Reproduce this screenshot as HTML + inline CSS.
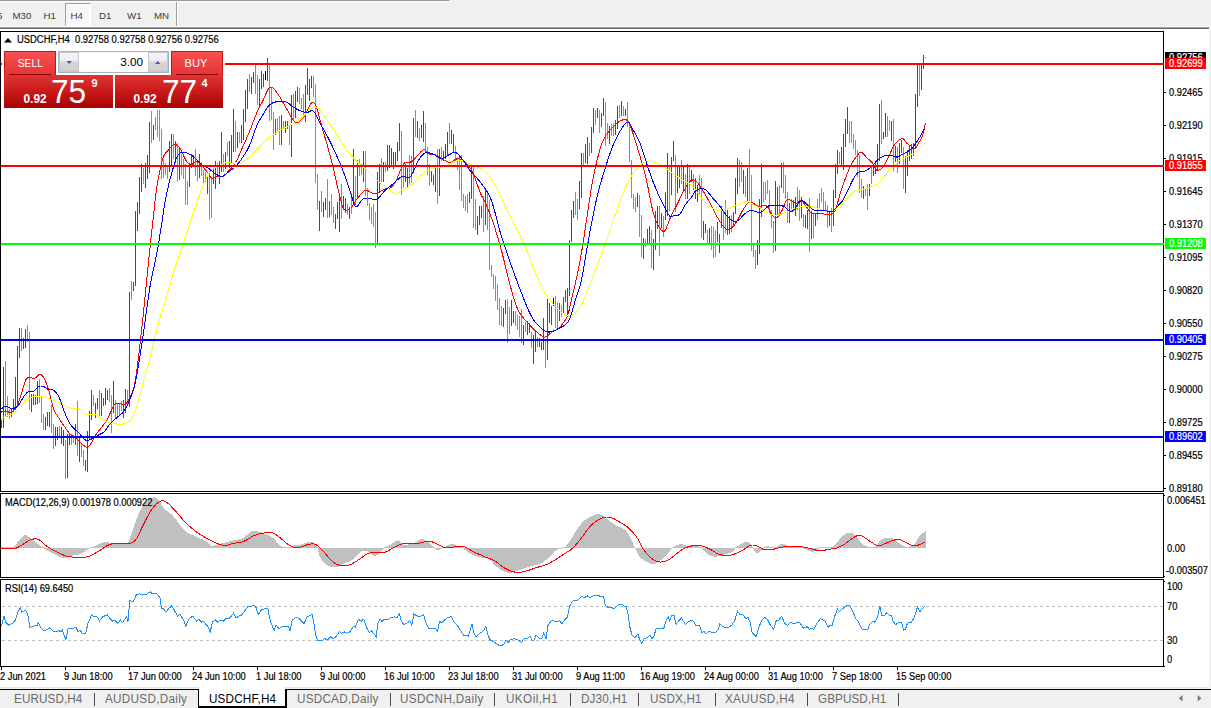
<!DOCTYPE html>
<html><head><meta charset="utf-8"><title>USDCHF,H4</title>
<style>
*{margin:0;padding:0;box-sizing:border-box}
html,body{width:1211px;height:708px;overflow:hidden;background:#f0f0f0;font-family:"Liberation Sans",sans-serif}
#tb{position:absolute;left:0;top:0;width:1211px;height:29px;background:#f0f0f0}
#tb .l0{position:absolute;left:0;top:0;width:450px;height:2px;background:#fff;border-top:1px solid #999;border-right:1px solid #fff}
#tb .l1{position:absolute;left:0;top:26px;width:1209px;height:1px;background:#f8f8f8}
#tb .l2{position:absolute;left:0;top:27px;width:1209px;height:1px;background:#a0a0a0}
#tb .l3{position:absolute;left:0;top:28px;width:1209px;height:1px;background:#696969}
.tf{position:absolute;top:10px;font-size:9.7px;color:#3c3c3c;line-height:12px;white-space:nowrap}
#h4{position:absolute;left:65px;top:3px;width:26px;height:23px;background-color:#f8f8f8;background-image:conic-gradient(#fff 25%,#f0f0f0 0 50%,#fff 0 75%,#f0f0f0 0);background-size:2px 2px;border:1px solid;border-color:#a0a0a0 #fff #fff #a0a0a0}
#sep{position:absolute;left:176px;top:2px;width:2px;height:25px;border-left:1px solid #a0a0a0;border-right:1px solid #fff}
#win{position:absolute;left:0;top:29px;width:1209px;height:658px;background:#fff}
#chart{position:absolute;left:0;top:0}
.ax,.ax2,.pb,.tm,.ttl{position:absolute;font-size:10px;line-height:11px;color:#000;white-space:nowrap;transform-origin:0 50%;transform:scaleX(0.93);-webkit-text-stroke:0.2px currentColor}
.ax{left:1169px}
.ax2{left:1167px}
.pb{left:1165px;width:44.09px;height:11px;color:#fff;padding-left:4.4px;line-height:11px}
.tm{top:670.5px;margin-left:-1px}
#tabs{position:absolute;left:0;top:687px;width:1211px;height:21px;background:#f0f0f0}
#tabs .ln0{position:absolute;left:0;top:0;width:1209px;height:1px;background:#e3e3e3}
#tabs .ln{position:absolute;left:0;top:2px;width:1211px;height:1px;background:#000}
.tab{position:absolute;top:6px;font-size:12.3px;line-height:13px;color:#6a6a6a;white-space:nowrap;transform-origin:0 50%;transform:scaleX(0.951)}
.tsep{position:absolute;top:6px;width:1px;height:13px;background:#4a4a4a}
#act{position:absolute;left:198px;top:2px;width:89px;height:19px;background:#fff;border-left:1px solid #000;border-right:2px solid #000;border-bottom:2px solid #000}
#act2{position:absolute;left:199px;top:0;width:86px;height:3px;background:#fff}
/* trade panel */
#tp{position:absolute;left:4px;top:51px;width:219px;height:57px;background:#fff;box-shadow:-2px 0 0 #fff,2px 0 0 #fff}
.btn{position:absolute;top:0;height:25px;background:linear-gradient(#f95050,#e43434);color:#fff;font-size:11.7px;line-height:21px;text-align:center;border:1px solid #c81414;border-bottom:none}
.btn span{display:inline-block}
.btn i{position:absolute;left:4px;right:4px;bottom:1px;height:1px;background:#8e0000}
.pr{position:absolute;top:24px;height:33px;background:linear-gradient(#e03434 0%,#c81a1a 50%,#a80202 100%);color:#fff}
.pr .s{position:absolute;font-weight:bold;font-size:11.9px;line-height:12px;top:18px}
.pr .b{position:absolute;font-size:34px;line-height:34px;top:-1px;transform-origin:0 0;transform:scaleX(0.93)}
.pr .u{position:absolute;font-weight:bold;font-size:11px;line-height:12px;top:1.5px}
#vol{position:absolute;left:54px;top:0;width:111px;height:22px;background:#fff;border:1px solid #a9b0b8}
.sp{position:absolute;top:0;width:20px;height:20px;background:linear-gradient(#f4f4f4 0%,#ececec 45%,#d6d6d6 50%,#cfcfcf 100%);border:1px solid #c3c7cc}
</style></head><body>
<div id="tb"><div class="l0"></div>
<div class="tf" style="left:-3px">5</div>
<div class="tf" style="left:12.5px">M30</div>
<div class="tf" style="left:43.5px">H1</div>
<div id="h4"></div>
<div class="tf" style="left:70.5px">H4</div>
<div class="tf" style="left:99px">D1</div>
<div class="tf" style="left:127px">W1</div>
<div class="tf" style="left:154px">MN</div>
<div id="sep"></div>
<div class="l1"></div><div class="l2"></div><div class="l3"></div>
</div>
<div id="win"></div>
<svg id="chart" width="1211" height="708" viewBox="0 0 1211 708" shape-rendering="crispEdges">
<path d="M1.5 418V428M3.5 367V428M11.5 409V417M13.5 399V412M15.5 377V410M17.5 346V407M19.5 328V358M23.5 338V349M25.5 329V348M31.5 394V412M33.5 394V405M35.5 395V405M37.5 381V404M45.5 417V430M47.5 412V426M49.5 412V427M55.5 427V446M57.5 427V440M61.5 427V444M63.5 430V446M67.5 434V478M69.5 433V445M75.5 424V445M79.5 436V462M85.5 460V471M87.5 431V472M89.5 411V440M91.5 390V420M95.5 403V418M97.5 398V409M101.5 393V416M103.5 398V406M105.5 388V405M107.5 390V400M113.5 381V413M123.5 400V418M125.5 389V413M129.5 292V407M133.5 282V291M135.5 211V286M137.5 202V231M139.5 177V214M141.5 164V192M145.5 163V188M147.5 155V179M149.5 122V173M153.5 125V140M169.5 141V172M171.5 134V166M175.5 141V163M179.5 149V180M189.5 163V187M191.5 154V168M193.5 155V166M199.5 154V178M207.5 175V194M213.5 168V184M215.5 161V189M219.5 161V184M221.5 132V172M225.5 152V169M229.5 141V168M231.5 135V163M233.5 109V152M237.5 132V148M241.5 125V143M243.5 109V140M245.5 90V122M247.5 79V109M251.5 77V94M253.5 72V83M259.5 79V108M261.5 71V89M263.5 74V87M267.5 58V81M275.5 119V135M281.5 115V145M285.5 121V133M287.5 121V129M291.5 95V157M295.5 91V118M297.5 87V102M305.5 85V122M307.5 68V95M309.5 79V101M311.5 76V88M319.5 201V231M323.5 202V217M325.5 198V210M329.5 201V217M335.5 214V229M337.5 202V219M339.5 193V232M343.5 196V210M345.5 198V213M349.5 207V219M353.5 149V203M357.5 160V198M363.5 151V182M377.5 172V244M379.5 164V193M383.5 162V182M387.5 145V171M389.5 145V168M391.5 148V166M393.5 152V169M395.5 152V165M397.5 142V161M399.5 123V151M405.5 164V182M407.5 168V188M413.5 118V173M417.5 121V138M421.5 125V138M423.5 111V142M431.5 171V182M433.5 175V185M435.5 166V192M439.5 149V196M443.5 151V161M445.5 144V159M447.5 132V156M451.5 130V144M453.5 134V152M469.5 192V203M471.5 167V199M477.5 216V235M479.5 206V225M481.5 206V218M485.5 188V225M503.5 308V327M505.5 300V314M511.5 300V326M513.5 311V323M523.5 325V345M527.5 321V335M529.5 323V333M533.5 335V364M535.5 332V352M539.5 338V347M541.5 342V350M543.5 318V350M547.5 299V360M549.5 303V323M551.5 306V325M559.5 303V321M563.5 297V314M565.5 290V302M567.5 288V316M569.5 240V296M571.5 210V242M573.5 201V218M579.5 181V209M581.5 153V198M585.5 144V163M587.5 137V164M591.5 127V153M593.5 108V133M597.5 108V118M601.5 113V127M603.5 98V116M609.5 126V144M615.5 120V135M617.5 106V129M621.5 101V116M625.5 109V116M637.5 193V207M643.5 238V259M647.5 229V245M649.5 226V243M653.5 239V270M655.5 211V250M657.5 206V229M661.5 213V228M665.5 192V220M667.5 153V216M671.5 157V195M673.5 141V161M677.5 166V193M679.5 165V188M683.5 165V190M687.5 164V199M691.5 170V182M695.5 178V199M697.5 185V202M703.5 221V240M705.5 224V233M709.5 228V244M717.5 222V242M719.5 234V253M721.5 206V228M727.5 209V235M729.5 216V234M733.5 212V226M735.5 178V214M737.5 158V194M743.5 170V194M747.5 168V202M757.5 240V265M759.5 199V254M761.5 164V217M775.5 181V251M777.5 187V216M781.5 163V188M789.5 203V223M793.5 200V211M795.5 197V216M801.5 197V218M805.5 215V228M807.5 210V229M811.5 211V239M815.5 213V226M829.5 211V226M833.5 190V226M835.5 164V198M837.5 150V174M841.5 147V165M843.5 134V170M845.5 119V147M847.5 107V134M863.5 186V199M869.5 184V196M873.5 164V176M875.5 161V174M877.5 144V170M879.5 104V161M883.5 132V139M885.5 113V137M891.5 121V141M895.5 146V162M899.5 143V164M901.5 140V153M905.5 156V193M907.5 150V176M909.5 146V161M911.5 144V159M913.5 143V156M915.5 94V149M917.5 64V107M921.5 63V90M923.5 55V69" stroke="#ff0000" stroke-width="1" fill="none"/>
<path d="M5.5 361V417M7.5 396V417M9.5 409V419M21.5 328V351M27.5 325V342M29.5 332V410M39.5 379V403M41.5 396V423M43.5 414V430M51.5 405V433M53.5 424V449M59.5 426V437M65.5 440V479M71.5 434V445M73.5 435V443M77.5 401V456M81.5 443V457M83.5 450V466M93.5 395V406M99.5 390V416M109.5 388V402M111.5 395V433M115.5 400V418M117.5 403V417M119.5 404V415M121.5 401V411M127.5 390V406M131.5 281V300M143.5 168V184M151.5 111V143M155.5 117V130M157.5 110V137M159.5 110V141M161.5 129V179M163.5 159V178M165.5 163V175M167.5 166V179M173.5 134V159M177.5 143V182M181.5 154V175M183.5 159V179M185.5 164V205M187.5 181V205M195.5 149V176M197.5 161V181M201.5 162V176M203.5 170V185M205.5 172V182M209.5 171V220M211.5 177V218M217.5 163V177M223.5 154V172M227.5 142V156M235.5 121V152M239.5 132V143M249.5 74V92M255.5 63V94M257.5 75V105M269.5 64V121M271.5 88V120M273.5 112V150M277.5 118V133M279.5 116V145M283.5 121V129M289.5 125V145M293.5 94V121M299.5 88V104M301.5 98V109M303.5 94V118M313.5 76V97M315.5 84V183M317.5 174V210M321.5 191V212M327.5 179V218M331.5 194V215M333.5 207V223M341.5 184V219M347.5 204V215M351.5 193V214M355.5 176V205M359.5 159V176M361.5 164V175M365.5 151V196M367.5 188V206M369.5 203V220M371.5 207V224M373.5 204V227M375.5 212V248M381.5 158V182M385.5 162V172M401.5 131V195M403.5 164V188M409.5 155V185M411.5 156V183M415.5 110V137M419.5 128V141M425.5 123V152M427.5 147V175M429.5 164V186M437.5 149V204M441.5 147V161M449.5 123V144M455.5 146V161M457.5 158V170M459.5 155V190M461.5 155V201M463.5 194V208M465.5 196V211M467.5 194V213M473.5 166V228M475.5 199V230M483.5 196V232M487.5 191V230M489.5 200V270M491.5 265V277M493.5 274V289M495.5 276V301M497.5 284V310M499.5 298V325M501.5 306V326M507.5 299V343M509.5 307V334M515.5 311V326M517.5 315V330M519.5 316V337M521.5 309V343M525.5 322V332M531.5 332V348M537.5 337V347M545.5 340V368M555.5 296V328M557.5 302V328M561.5 305V317M575.5 192V215M577.5 199V220M583.5 153V167M589.5 143V156M595.5 110V125M599.5 110V133M605.5 102V146M607.5 123V139M611.5 124V136M613.5 123V136M619.5 105V118M623.5 106V116M627.5 102V127M629.5 122V162M631.5 160V198M633.5 194V209M635.5 197V212M639.5 195V237M641.5 215V257M645.5 239V247M651.5 230V268M659.5 206V256M663.5 216V237M669.5 166V211M675.5 155V212M681.5 160V184M685.5 174V199M689.5 165V194M693.5 174V190M699.5 175V194M701.5 178V238M707.5 230V245M711.5 226V250M713.5 227V258M715.5 230V257M723.5 212V240M725.5 200V233M731.5 215V232M739.5 160V187M741.5 162V182M745.5 176V197M749.5 149V203M751.5 175V251M753.5 244V257M755.5 250V269M763.5 182V202M765.5 182V200M767.5 180V194M769.5 190V214M771.5 210V228M773.5 221V253M779.5 185V216M783.5 162V193M785.5 175V199M787.5 192V223M791.5 199V212M797.5 187V210M799.5 190V221M803.5 214V227M809.5 198V252M813.5 214V238M817.5 199V220M819.5 193V211M821.5 188V202M823.5 192V210M825.5 201V211M827.5 205V228M831.5 208V232M839.5 152V164M849.5 121V143M851.5 121V143M853.5 134V149M855.5 140V155M857.5 150V177M859.5 155V193M861.5 179V198M865.5 188V196M867.5 184V210M871.5 167V184M881.5 100V144M887.5 116V137M889.5 120V131M893.5 119V171M897.5 147V173M903.5 147V189M919.5 64V96M925.5 57V58" stroke="#32cd32" stroke-width="1" fill="none"/>
<path d="M265.5 71V80M553.5 298V306" stroke="#000000" stroke-width="1" fill="none"/>
<polyline points="0.5,412.3 1.5,412.0 2.5,411.7 3.5,411.3 4.5,411.1 5.5,411.0 6.5,411.2 7.5,411.6 8.5,412.0 9.5,412.3 10.5,412.3 11.5,412.0 12.5,411.5 13.5,410.8 14.5,409.8 15.5,408.5 16.5,406.8 17.5,404.7 18.5,402.3 19.5,399.7 20.5,397.0 21.5,393.8 22.5,390.2 23.5,386.5 24.5,383.2 25.5,380.5 26.5,378.8 27.5,377.9 28.5,377.4 29.5,377.2 30.5,377.2 31.5,377.6 32.5,378.1 33.5,378.5 34.5,378.5 35.5,377.9 36.5,377.0 37.5,375.9 38.5,375.0 39.5,374.5 40.5,374.5 41.5,374.9 42.5,375.8 43.5,377.2 44.5,379.0 45.5,381.2 46.5,383.7 47.5,386.5 48.5,389.5 49.5,393.0 50.5,397.1 51.5,401.3 52.5,405.2 53.5,408.5 54.5,411.0 55.5,412.9 56.5,414.5 57.5,416.0 58.5,417.5 59.5,419.1 60.5,420.7 61.5,422.2 62.5,423.6 63.5,425.1 64.5,426.5 65.5,427.9 66.5,429.4 67.5,430.8 68.5,432.2 69.5,433.4 70.5,434.5 71.5,435.3 72.5,435.9 73.5,436.3 74.5,436.8 75.5,437.5 76.5,438.4 77.5,439.4 78.5,440.4 79.5,441.5 80.5,442.5 81.5,443.5 82.5,444.4 83.5,445.3 84.5,446.1 85.5,446.9 86.5,447.5 87.5,447.5 88.5,446.8 89.5,445.6 90.5,444.3 91.5,442.7 92.5,440.9 93.5,439.0 94.5,437.1 95.5,435.3 96.5,433.8 97.5,432.4 98.5,431.1 99.5,430.0 100.5,428.7 101.5,427.5 102.5,426.2 103.5,425.0 104.5,423.7 105.5,422.3 106.5,420.6 107.5,418.8 108.5,416.7 109.5,414.6 110.5,412.5 111.5,410.5 112.5,408.2 113.5,406.0 114.5,404.5 115.5,403.8 116.5,403.5 117.5,403.4 118.5,403.5 119.5,403.5 120.5,403.7 121.5,404.1 122.5,404.5 123.5,404.7 124.5,404.5 125.5,403.9 126.5,403.1 127.5,402.0 128.5,400.5 129.5,398.5 130.5,396.3 131.5,394.2 132.5,391.7 133.5,388.7 134.5,384.7 135.5,379.5 136.5,373.0 137.5,365.7 138.5,357.5 139.5,348.9 140.5,339.8 141.5,330.7 142.5,321.5 143.5,312.2 144.5,302.5 145.5,292.5 146.5,282.4 147.5,272.3 148.5,262.3 149.5,252.5 150.5,243.0 151.5,233.7 152.5,224.5 153.5,215.5 154.5,206.1 155.5,197.0 156.5,189.5 157.5,183.4 158.5,177.7 159.5,172.4 160.5,167.5 161.5,163.2 162.5,159.5 163.5,156.6 164.5,154.6 165.5,153.2 166.5,152.1 167.5,151.1 168.5,149.9 169.5,148.6 170.5,147.4 171.5,146.3 172.5,145.4 173.5,144.8 174.5,144.5 175.5,144.6 176.5,145.0 177.5,145.7 178.5,146.6 179.5,147.8 180.5,149.1 181.5,150.8 182.5,152.9 183.5,155.3 184.5,157.6 185.5,159.6 186.5,161.3 187.5,162.7 188.5,163.8 189.5,164.6 190.5,164.9 191.5,164.7 192.5,164.0 193.5,163.1 194.5,162.2 195.5,161.6 196.5,161.5 197.5,161.9 198.5,162.6 199.5,163.6 200.5,164.6 201.5,165.6 202.5,166.6 203.5,167.7 204.5,168.8 205.5,170.0 206.5,171.3 207.5,172.5 208.5,173.9 209.5,175.6 210.5,177.1 211.5,178.2 212.5,178.6 213.5,178.4 214.5,177.9 215.5,177.2 216.5,176.6 217.5,176.2 218.5,176.1 219.5,176.2 220.5,176.4 221.5,176.5 222.5,176.5 223.5,176.1 224.5,175.4 225.5,174.5 226.5,173.4 227.5,172.2 228.5,171.1 229.5,169.9 230.5,168.9 231.5,167.8 232.5,166.7 233.5,165.5 234.5,164.1 235.5,162.5 236.5,160.7 237.5,158.7 238.5,156.6 239.5,154.3 240.5,152.0 241.5,149.7 242.5,147.5 243.5,145.3 244.5,143.1 245.5,140.8 246.5,138.5 247.5,136.2 248.5,133.9 249.5,131.5 250.5,129.0 251.5,126.4 252.5,123.7 253.5,121.1 254.5,118.4 255.5,115.9 256.5,113.5 257.5,111.3 258.5,109.2 259.5,107.2 260.5,105.3 261.5,103.4 262.5,101.5 263.5,99.4 264.5,97.1 265.5,94.8 266.5,92.5 267.5,90.5 268.5,88.8 269.5,87.6 270.5,87.0 271.5,87.0 272.5,87.5 273.5,88.3 274.5,89.4 275.5,90.7 276.5,92.1 277.5,93.4 278.5,94.9 279.5,96.5 280.5,98.1 281.5,99.9 282.5,101.6 283.5,103.4 284.5,105.2 285.5,107.0 286.5,108.7 287.5,110.3 288.5,112.1 289.5,114.0 290.5,115.9 291.5,117.7 292.5,119.3 293.5,120.7 294.5,121.8 295.5,122.5 296.5,122.7 297.5,122.6 298.5,122.2 299.5,121.5 300.5,120.6 301.5,119.6 302.5,118.5 303.5,117.3 304.5,116.1 305.5,114.5 306.5,112.5 307.5,110.3 308.5,108.1 309.5,106.0 310.5,104.3 311.5,102.9 312.5,102.2 313.5,102.3 314.5,103.3 315.5,105.0 316.5,107.5 317.5,110.5 318.5,113.9 319.5,117.6 320.5,121.4 321.5,125.3 322.5,129.0 323.5,132.5 324.5,135.8 325.5,139.2 326.5,142.6 327.5,146.1 328.5,149.7 329.5,153.3 330.5,157.0 331.5,160.8 332.5,164.7 333.5,168.9 334.5,173.3 335.5,177.8 336.5,182.4 337.5,186.9 338.5,191.2 339.5,195.3 340.5,199.4 341.5,203.3 342.5,206.5 343.5,208.5 344.5,209.5 345.5,210.1 346.5,210.2 347.5,210.1 348.5,209.7 349.5,209.2 350.5,208.5 351.5,207.5 352.5,206.1 353.5,204.4 354.5,202.6 355.5,200.9 356.5,199.5 357.5,198.3 358.5,197.0 359.5,195.7 360.5,194.5 361.5,193.4 362.5,192.4 363.5,191.5 364.5,190.9 365.5,190.4 366.5,190.3 367.5,190.5 368.5,191.0 369.5,191.5 370.5,192.2 371.5,192.7 372.5,193.2 373.5,193.5 374.5,193.5 375.5,193.4 376.5,193.1 377.5,192.7 378.5,192.3 379.5,191.8 380.5,191.3 381.5,190.8 382.5,190.2 383.5,189.7 384.5,189.2 385.5,188.8 386.5,188.5 387.5,188.4 388.5,188.3 389.5,188.2 390.5,187.8 391.5,187.1 392.5,186.1 393.5,185.0 394.5,183.6 395.5,182.0 396.5,180.2 397.5,177.8 398.5,175.0 399.5,172.5 400.5,170.2 401.5,167.8 402.5,165.6 403.5,163.9 404.5,162.9 405.5,162.5 406.5,162.5 407.5,162.6 408.5,162.4 409.5,162.2 410.5,162.0 411.5,161.7 412.5,161.0 413.5,160.1 414.5,159.0 415.5,157.8 416.5,156.5 417.5,155.4 418.5,154.4 419.5,153.3 420.5,152.2 421.5,151.2 422.5,150.3 423.5,149.7 424.5,149.5 425.5,150.3 426.5,151.8 427.5,153.2 428.5,153.7 429.5,154.0 430.5,154.0 431.5,154.0 432.5,154.0 433.5,154.2 434.5,154.6 435.5,155.0 436.5,155.5 437.5,156.0 438.5,156.6 439.5,157.2 440.5,157.8 441.5,158.5 442.5,159.1 443.5,159.8 444.5,160.3 445.5,160.9 446.5,161.4 447.5,161.9 448.5,162.3 449.5,162.5 450.5,162.5 451.5,162.2 452.5,161.6 453.5,160.8 454.5,160.0 455.5,159.4 456.5,159.0 457.5,158.7 458.5,158.7 459.5,158.8 460.5,159.1 461.5,159.7 462.5,160.4 463.5,161.2 464.5,162.0 465.5,162.9 466.5,163.9 467.5,164.9 468.5,166.0 469.5,167.3 470.5,168.6 471.5,169.9 472.5,171.6 473.5,173.7 474.5,176.4 475.5,179.4 476.5,182.3 477.5,185.1 478.5,187.9 479.5,190.7 480.5,193.3 481.5,195.5 482.5,197.4 483.5,199.2 484.5,201.1 485.5,203.2 486.5,205.4 487.5,207.8 488.5,210.2 489.5,212.8 490.5,215.3 491.5,217.9 492.5,220.6 493.5,223.5 494.5,226.6 495.5,229.9 496.5,233.2 497.5,236.6 498.5,240.0 499.5,243.4 500.5,246.8 501.5,250.5 502.5,254.4 503.5,258.4 504.5,262.5 505.5,266.6 506.5,270.7 507.5,274.8 508.5,278.8 509.5,282.8 510.5,286.6 511.5,290.2 512.5,293.8 513.5,297.2 514.5,300.5 515.5,303.5 516.5,306.3 517.5,308.7 518.5,310.8 519.5,312.6 520.5,314.2 521.5,315.7 522.5,317.0 523.5,318.2 524.5,319.3 525.5,320.4 526.5,321.5 527.5,322.6 528.5,323.7 529.5,324.9 530.5,326.0 531.5,327.0 532.5,328.0 533.5,329.0 534.5,330.0 535.5,330.9 536.5,331.8 537.5,332.7 538.5,333.5 539.5,334.3 540.5,335.1 541.5,335.8 542.5,336.4 543.5,336.9 544.5,337.1 545.5,337.0 546.5,336.6 547.5,336.0 548.5,335.1 549.5,334.1 550.5,333.2 551.5,332.4 552.5,331.7 553.5,331.2 554.5,330.8 555.5,330.3 556.5,329.8 557.5,329.2 558.5,328.4 559.5,327.4 560.5,326.3 561.5,325.2 562.5,324.0 563.5,322.7 564.5,321.3 565.5,319.9 566.5,318.2 567.5,316.1 568.5,312.7 569.5,308.5 570.5,304.0 571.5,299.4 572.5,294.9 573.5,290.8 574.5,286.8 575.5,282.7 576.5,278.1 577.5,273.4 578.5,268.6 579.5,263.6 580.5,258.4 581.5,252.7 582.5,246.6 583.5,240.1 584.5,233.5 585.5,226.8 586.5,220.2 587.5,213.7 588.5,207.0 589.5,200.2 590.5,193.6 591.5,187.3 592.5,181.5 593.5,176.2 594.5,171.3 595.5,166.7 596.5,162.4 597.5,158.4 598.5,154.6 599.5,151.0 600.5,147.7 601.5,144.6 602.5,141.9 603.5,139.6 604.5,137.7 605.5,136.0 606.5,134.5 607.5,133.1 608.5,131.9 609.5,130.8 610.5,129.7 611.5,128.7 612.5,127.6 613.5,126.5 614.5,125.5 615.5,124.5 616.5,123.6 617.5,122.7 618.5,122.0 619.5,121.3 620.5,120.8 621.5,120.4 622.5,120.0 623.5,119.7 624.5,119.6 625.5,119.7 626.5,120.0 627.5,120.6 628.5,121.6 629.5,123.6 630.5,126.2 631.5,129.0 632.5,132.0 633.5,135.0 634.5,138.1 635.5,141.3 636.5,144.5 637.5,147.9 638.5,151.3 639.5,154.7 640.5,158.0 641.5,161.4 642.5,164.9 643.5,168.4 644.5,172.1 645.5,176.0 646.5,180.2 647.5,184.9 648.5,189.9 649.5,195.1 650.5,200.2 651.5,205.2 652.5,209.7 653.5,213.6 654.5,216.9 655.5,219.8 656.5,222.2 657.5,224.2 658.5,226.0 659.5,227.6 660.5,229.1 661.5,230.3 662.5,231.1 663.5,231.4 664.5,231.0 665.5,229.8 666.5,227.7 667.5,225.1 668.5,222.3 669.5,219.7 670.5,217.5 671.5,215.4 672.5,213.4 673.5,211.4 674.5,209.4 675.5,207.5 676.5,205.5 677.5,203.5 678.5,201.5 679.5,199.4 680.5,197.3 681.5,195.2 682.5,193.3 683.5,191.4 684.5,189.7 685.5,188.0 686.5,186.4 687.5,184.8 688.5,183.4 689.5,182.2 690.5,181.1 691.5,180.4 692.5,180.0 693.5,179.9 694.5,180.2 695.5,180.7 696.5,181.5 697.5,182.5 698.5,183.8 699.5,185.3 700.5,186.8 701.5,188.5 702.5,190.1 703.5,191.7 704.5,193.3 705.5,195.0 706.5,196.7 707.5,198.5 708.5,200.3 709.5,202.1 710.5,204.0 711.5,206.0 712.5,208.0 713.5,210.0 714.5,212.0 715.5,214.0 716.5,215.8 717.5,217.5 718.5,219.2 719.5,220.9 720.5,222.5 721.5,224.0 722.5,225.4 723.5,226.6 724.5,227.7 725.5,228.6 726.5,229.1 727.5,229.5 728.5,229.5 729.5,229.4 730.5,228.9 731.5,228.1 732.5,227.2 733.5,226.1 734.5,224.9 735.5,223.4 736.5,221.9 737.5,220.2 738.5,218.5 739.5,216.6 740.5,214.6 741.5,212.6 742.5,210.6 743.5,209.0 744.5,207.5 745.5,206.0 746.5,204.6 747.5,203.4 748.5,202.5 749.5,202.0 750.5,202.0 751.5,202.2 752.5,202.8 753.5,203.4 754.5,204.1 755.5,204.6 756.5,205.2 757.5,205.9 758.5,206.4 759.5,206.5 760.5,206.2 761.5,205.7 762.5,205.5 763.5,205.4 764.5,205.4 765.5,205.5 766.5,205.9 767.5,206.7 768.5,208.3 769.5,210.4 770.5,212.6 771.5,214.5 772.5,215.7 773.5,216.7 774.5,217.3 775.5,217.7 776.5,217.6 777.5,217.2 778.5,216.2 779.5,214.8 780.5,213.2 781.5,211.5 782.5,209.4 783.5,206.9 784.5,204.3 785.5,202.1 786.5,200.5 787.5,199.7 788.5,199.6 789.5,199.8 790.5,200.2 791.5,200.6 792.5,201.1 793.5,201.9 794.5,202.7 795.5,203.2 796.5,203.2 797.5,202.7 798.5,201.8 799.5,200.9 800.5,200.5 801.5,200.8 802.5,201.6 803.5,202.8 804.5,204.2 805.5,205.5 806.5,206.8 807.5,208.3 808.5,209.9 809.5,211.3 810.5,212.4 811.5,213.2 812.5,213.6 813.5,213.8 814.5,213.8 815.5,213.7 816.5,213.6 817.5,213.4 818.5,213.3 819.5,213.2 820.5,213.2 821.5,213.4 822.5,213.6 823.5,213.8 824.5,214.1 825.5,214.3 826.5,214.5 827.5,214.6 828.5,214.6 829.5,214.4 830.5,214.3 831.5,214.0 832.5,213.5 833.5,212.7 834.5,211.4 835.5,209.5 836.5,206.8 837.5,203.4 838.5,199.7 839.5,195.9 840.5,192.4 841.5,189.3 842.5,186.5 843.5,183.6 844.5,180.8 845.5,178.1 846.5,175.5 847.5,172.9 848.5,170.5 849.5,168.3 850.5,166.2 851.5,164.2 852.5,162.4 853.5,160.8 854.5,159.2 855.5,157.7 856.5,156.4 857.5,155.0 858.5,153.8 859.5,152.7 860.5,152.2 861.5,152.3 862.5,152.9 863.5,153.8 864.5,155.0 865.5,156.2 866.5,157.3 867.5,158.3 868.5,159.2 869.5,160.1 870.5,161.0 871.5,162.0 872.5,163.1 873.5,164.6 874.5,166.8 875.5,168.8 876.5,170.0 877.5,170.3 878.5,170.2 879.5,169.8 880.5,169.2 881.5,168.5 882.5,167.7 883.5,166.4 884.5,164.8 885.5,163.0 886.5,161.0 887.5,159.0 888.5,156.9 889.5,154.8 890.5,152.7 891.5,150.5 892.5,148.3 893.5,146.3 894.5,144.8 895.5,143.6 896.5,142.4 897.5,141.4 898.5,140.5 899.5,139.7 900.5,139.1 901.5,138.7 902.5,138.5 903.5,139.0 904.5,140.2 905.5,141.6 906.5,142.9 907.5,143.8 908.5,144.5 909.5,145.1 910.5,145.7 911.5,146.4 912.5,147.4 913.5,148.4 914.5,148.8 915.5,148.0 916.5,146.7 917.5,145.1 918.5,143.3 919.5,141.5 920.5,139.9 921.5,138.0 922.5,135.5 923.5,131.8 924.5,127.5 925.5,123.1" fill="none" stroke="#ff0000" stroke-width="1" />
<polyline points="0.5,419.5 1.5,419.0 2.5,418.4 3.5,417.9 4.5,417.3 5.5,416.8 6.5,416.3 7.5,415.8 8.5,415.4 9.5,415.1 10.5,414.7 11.5,414.4 12.5,413.9 13.5,413.3 14.5,412.7 15.5,412.0 16.5,411.2 17.5,410.4 18.5,409.5 19.5,408.5 20.5,407.4 21.5,406.1 22.5,404.7 23.5,403.3 24.5,402.0 25.5,400.9 26.5,400.0 27.5,399.2 28.5,398.6 29.5,398.1 30.5,397.6 31.5,397.3 32.5,396.9 33.5,396.7 34.5,396.6 35.5,396.5 36.5,396.5 37.5,396.5 38.5,396.5 39.5,396.5 40.5,396.5 41.5,396.5 42.5,396.6 43.5,396.7 44.5,396.9 45.5,397.1 46.5,397.4 47.5,397.8 48.5,398.2 49.5,398.6 50.5,399.1 51.5,399.5 52.5,399.9 53.5,400.3 54.5,400.8 55.5,401.2 56.5,401.6 57.5,402.1 58.5,402.6 59.5,403.0 60.5,403.5 61.5,404.0 62.5,404.5 63.5,404.9 64.5,405.4 65.5,405.8 66.5,406.3 67.5,406.7 68.5,407.2 69.5,407.6 70.5,407.9 71.5,408.3 72.5,408.5 73.5,408.7 74.5,408.8 75.5,408.8 76.5,408.8 77.5,408.8 78.5,408.9 79.5,409.1 80.5,409.5 81.5,410.3 82.5,411.4 83.5,412.7 84.5,413.8 85.5,414.5 86.5,414.7 87.5,414.8 88.5,414.8 89.5,414.8 90.5,414.6 91.5,414.5 92.5,414.4 93.5,414.3 94.5,414.3 95.5,414.4 96.5,414.7 97.5,415.3 98.5,416.2 99.5,417.1 100.5,418.1 101.5,418.8 102.5,419.4 103.5,420.1 104.5,420.7 105.5,421.3 106.5,421.8 107.5,422.2 108.5,422.5 109.5,422.8 110.5,422.9 111.5,423.1 112.5,423.2 113.5,423.3 114.5,423.5 115.5,423.7 116.5,424.0 117.5,424.2 118.5,424.4 119.5,424.5 120.5,424.5 121.5,424.3 122.5,424.1 123.5,423.9 124.5,423.5 125.5,423.2 126.5,422.8 127.5,422.4 128.5,421.8 129.5,420.9 130.5,419.8 131.5,418.4 132.5,416.8 133.5,415.0 134.5,412.9 135.5,410.5 136.5,407.5 137.5,403.8 138.5,399.8 139.5,396.0 140.5,392.4 141.5,388.9 142.5,385.5 143.5,382.0 144.5,378.5 145.5,374.9 146.5,371.3 147.5,367.5 148.5,363.6 149.5,359.7 150.5,355.6 151.5,351.6 152.5,347.5 153.5,343.4 154.5,339.3 155.5,335.2 156.5,331.2 157.5,327.2 158.5,323.4 159.5,319.7 160.5,316.2 161.5,312.9 162.5,309.7 163.5,306.6 164.5,303.5 165.5,300.2 166.5,296.8 167.5,293.3 168.5,289.8 169.5,286.4 170.5,282.9 171.5,279.4 172.5,276.1 173.5,272.7 174.5,269.5 175.5,266.4 176.5,263.4 177.5,260.4 178.5,257.6 179.5,254.7 180.5,251.9 181.5,249.0 182.5,246.1 183.5,243.1 184.5,240.1 185.5,237.1 186.5,234.1 187.5,231.0 188.5,228.0 189.5,224.9 190.5,221.9 191.5,218.9 192.5,215.9 193.5,212.8 194.5,209.8 195.5,206.8 196.5,203.8 197.5,200.9 198.5,198.0 199.5,195.2 200.5,192.4 201.5,189.8 202.5,187.2 203.5,184.7 204.5,182.3 205.5,179.9 206.5,177.6 207.5,175.6 208.5,173.8 209.5,172.3 210.5,171.1 211.5,170.1 212.5,169.3 213.5,168.5 214.5,167.9 215.5,167.2 216.5,166.6 217.5,166.2 218.5,165.8 219.5,165.5 220.5,165.1 221.5,164.7 222.5,164.2 223.5,163.6 224.5,163.1 225.5,162.7 226.5,162.5 227.5,162.5 228.5,162.6 229.5,162.8 230.5,163.0 231.5,163.3 232.5,163.4 233.5,163.5 234.5,163.5 235.5,163.4 236.5,163.3 237.5,163.2 238.5,163.0 239.5,162.7 240.5,162.4 241.5,162.1 242.5,161.8 243.5,161.4 244.5,160.9 245.5,160.4 246.5,159.7 247.5,159.0 248.5,158.2 249.5,157.2 250.5,156.3 251.5,155.3 252.5,154.2 253.5,153.2 254.5,152.1 255.5,151.1 256.5,150.1 257.5,149.1 258.5,148.0 259.5,146.9 260.5,145.9 261.5,144.8 262.5,143.8 263.5,142.8 264.5,141.8 265.5,140.8 266.5,139.9 267.5,139.0 268.5,138.2 269.5,137.4 270.5,136.6 271.5,135.9 272.5,135.2 273.5,134.5 274.5,133.9 275.5,133.3 276.5,132.6 277.5,132.0 278.5,131.4 279.5,130.9 280.5,130.3 281.5,129.7 282.5,129.1 283.5,128.5 284.5,128.0 285.5,127.4 286.5,126.8 287.5,126.2 288.5,125.6 289.5,125.1 290.5,124.5 291.5,124.0 292.5,123.5 293.5,123.0 294.5,122.4 295.5,121.9 296.5,121.3 297.5,120.7 298.5,120.1 299.5,119.4 300.5,118.7 301.5,118.0 302.5,117.1 303.5,116.2 304.5,115.1 305.5,114.1 306.5,113.0 307.5,111.9 308.5,110.8 309.5,109.8 310.5,108.9 311.5,108.1 312.5,107.5 313.5,107.0 314.5,106.8 315.5,107.0 316.5,107.5 317.5,108.2 318.5,109.1 319.5,110.1 320.5,111.2 321.5,112.3 322.5,113.6 323.5,115.0 324.5,116.4 325.5,117.9 326.5,119.4 327.5,121.0 328.5,122.5 329.5,123.9 330.5,125.3 331.5,126.7 332.5,128.0 333.5,129.4 334.5,130.8 335.5,132.2 336.5,133.7 337.5,135.2 338.5,136.8 339.5,138.5 340.5,140.2 341.5,142.0 342.5,143.8 343.5,145.5 344.5,147.0 345.5,148.5 346.5,149.8 347.5,151.1 348.5,152.4 349.5,153.6 350.5,154.8 351.5,155.9 352.5,157.0 353.5,158.1 354.5,159.2 355.5,160.2 356.5,161.2 357.5,162.2 358.5,163.1 359.5,164.0 360.5,164.8 361.5,165.6 362.5,166.4 363.5,167.2 364.5,168.0 365.5,168.8 366.5,169.7 367.5,170.6 368.5,171.5 369.5,172.4 370.5,173.4 371.5,174.5 372.5,175.5 373.5,176.6 374.5,177.6 375.5,178.7 376.5,179.7 377.5,180.7 378.5,181.6 379.5,182.5 380.5,183.3 381.5,184.0 382.5,184.7 383.5,185.3 384.5,185.9 385.5,186.5 386.5,187.2 387.5,187.8 388.5,188.6 389.5,189.4 390.5,190.4 391.5,191.4 392.5,192.2 393.5,192.9 394.5,193.4 395.5,193.6 396.5,193.4 397.5,193.1 398.5,192.6 399.5,192.0 400.5,191.4 401.5,190.8 402.5,190.2 403.5,189.7 404.5,189.1 405.5,188.6 406.5,188.0 407.5,187.5 408.5,186.8 409.5,186.2 410.5,185.6 411.5,184.9 412.5,184.1 413.5,183.3 414.5,182.5 415.5,181.5 416.5,180.5 417.5,179.5 418.5,178.4 419.5,177.3 420.5,176.2 421.5,175.2 422.5,174.2 423.5,173.3 424.5,172.5 425.5,171.8 426.5,171.1 427.5,170.6 428.5,170.0 429.5,169.6 430.5,169.2 431.5,168.8 432.5,168.5 433.5,168.2 434.5,167.9 435.5,167.8 436.5,167.6 437.5,167.5 438.5,167.4 439.5,167.4 440.5,167.3 441.5,167.1 442.5,167.0 443.5,166.8 444.5,166.5 445.5,166.1 446.5,165.7 447.5,165.2 448.5,164.7 449.5,164.1 450.5,163.6 451.5,163.0 452.5,162.5 453.5,162.0 454.5,161.6 455.5,161.2 456.5,160.9 457.5,160.6 458.5,160.5 459.5,160.3 460.5,160.3 461.5,160.4 462.5,160.5 463.5,160.8 464.5,161.1 465.5,161.6 466.5,162.1 467.5,162.6 468.5,163.2 469.5,163.7 470.5,164.2 471.5,164.7 472.5,165.1 473.5,165.5 474.5,165.9 475.5,166.3 476.5,166.6 477.5,167.0 478.5,167.5 479.5,167.9 480.5,168.5 481.5,169.0 482.5,169.7 483.5,170.4 484.5,171.3 485.5,172.2 486.5,173.2 487.5,174.4 488.5,175.6 489.5,176.9 490.5,178.3 491.5,179.8 492.5,181.3 493.5,182.9 494.5,184.5 495.5,186.2 496.5,188.0 497.5,190.0 498.5,192.0 499.5,194.0 500.5,196.1 501.5,198.2 502.5,200.3 503.5,202.4 504.5,204.5 505.5,206.5 506.5,208.6 507.5,210.7 508.5,212.8 509.5,214.9 510.5,217.0 511.5,219.1 512.5,221.1 513.5,223.2 514.5,225.2 515.5,227.2 516.5,229.1 517.5,230.9 518.5,232.8 519.5,234.6 520.5,236.5 521.5,238.4 522.5,240.4 523.5,242.4 524.5,244.6 525.5,246.9 526.5,249.4 527.5,252.0 528.5,254.8 529.5,257.5 530.5,260.3 531.5,263.1 532.5,265.9 533.5,268.5 534.5,271.1 535.5,273.4 536.5,275.7 537.5,278.0 538.5,280.1 539.5,282.3 540.5,284.3 541.5,286.3 542.5,288.2 543.5,290.1 544.5,291.8 545.5,293.5 546.5,295.1 547.5,296.6 548.5,298.0 549.5,299.4 550.5,300.7 551.5,301.9 552.5,303.1 553.5,304.3 554.5,305.4 555.5,306.5 556.5,307.6 557.5,308.6 558.5,309.6 559.5,310.6 560.5,311.5 561.5,312.4 562.5,313.2 563.5,313.9 564.5,314.5 565.5,315.1 566.5,315.5 567.5,315.9 568.5,316.0 569.5,316.0 570.5,315.9 571.5,315.6 572.5,315.1 573.5,314.5 574.5,313.8 575.5,312.9 576.5,312.0 577.5,310.9 578.5,309.6 579.5,308.1 580.5,306.5 581.5,304.6 582.5,302.6 583.5,300.4 584.5,298.0 585.5,295.6 586.5,293.0 587.5,290.5 588.5,288.0 589.5,285.5 590.5,283.0 591.5,280.6 592.5,278.0 593.5,275.5 594.5,272.9 595.5,270.3 596.5,267.7 597.5,265.1 598.5,262.4 599.5,259.8 600.5,257.1 601.5,254.4 602.5,251.7 603.5,248.9 604.5,246.1 605.5,243.3 606.5,240.5 607.5,237.6 608.5,234.7 609.5,231.7 610.5,228.7 611.5,225.7 612.5,222.8 613.5,219.8 614.5,216.9 615.5,214.1 616.5,211.3 617.5,208.5 618.5,205.7 619.5,203.0 620.5,200.3 621.5,197.6 622.5,195.0 623.5,192.5 624.5,190.1 625.5,187.7 626.5,185.5 627.5,183.4 628.5,181.4 629.5,179.6 630.5,177.8 631.5,176.1 632.5,174.4 633.5,172.9 634.5,171.4 635.5,170.0 636.5,168.7 637.5,167.5 638.5,166.5 639.5,165.6 640.5,164.7 641.5,164.0 642.5,163.4 643.5,162.8 644.5,162.3 645.5,161.8 646.5,161.3 647.5,161.1 648.5,161.0 649.5,161.1 650.5,161.2 651.5,161.4 652.5,161.6 653.5,161.8 654.5,162.1 655.5,162.4 656.5,162.8 657.5,163.2 658.5,163.7 659.5,164.3 660.5,164.9 661.5,165.5 662.5,166.2 663.5,166.9 664.5,167.5 665.5,168.2 666.5,168.9 667.5,169.6 668.5,170.3 669.5,171.0 670.5,171.7 671.5,172.5 672.5,173.2 673.5,173.9 674.5,174.6 675.5,175.3 676.5,175.9 677.5,176.6 678.5,177.3 679.5,178.0 680.5,178.6 681.5,179.3 682.5,179.9 683.5,180.5 684.5,181.1 685.5,181.6 686.5,182.0 687.5,182.5 688.5,183.1 689.5,183.7 690.5,184.4 691.5,185.2 692.5,186.2 693.5,187.3 694.5,188.6 695.5,189.9 696.5,191.2 697.5,192.5 698.5,193.8 699.5,195.1 700.5,196.5 701.5,197.9 702.5,199.2 703.5,200.5 704.5,201.7 705.5,202.7 706.5,203.7 707.5,204.7 708.5,205.5 709.5,206.3 710.5,207.1 711.5,207.7 712.5,208.3 713.5,208.8 714.5,209.3 715.5,209.7 716.5,210.0 717.5,210.2 718.5,210.4 719.5,210.5 720.5,210.5 721.5,210.5 722.5,210.3 723.5,210.1 724.5,209.9 725.5,209.6 726.5,209.3 727.5,209.0 728.5,208.6 729.5,208.2 730.5,207.8 731.5,207.4 732.5,206.9 733.5,206.5 734.5,206.1 735.5,205.6 736.5,205.2 737.5,204.7 738.5,204.2 739.5,203.8 740.5,203.4 741.5,203.1 742.5,202.7 743.5,202.3 744.5,202.0 745.5,201.7 746.5,201.5 747.5,201.5 748.5,201.6 749.5,202.0 750.5,202.7 751.5,203.5 752.5,204.3 753.5,204.8 754.5,205.3 755.5,205.8 756.5,206.3 757.5,206.8 758.5,207.3 759.5,207.8 760.5,208.3 761.5,208.9 762.5,209.6 763.5,210.2 764.5,210.9 765.5,211.5 766.5,212.1 767.5,212.6 768.5,213.1 769.5,213.6 770.5,214.1 771.5,214.5 772.5,214.9 773.5,215.1 774.5,215.3 775.5,215.4 776.5,215.3 777.5,215.2 778.5,215.0 779.5,214.7 780.5,214.4 781.5,214.1 782.5,213.7 783.5,213.3 784.5,212.7 785.5,212.2 786.5,211.7 787.5,211.1 788.5,210.7 789.5,210.3 790.5,209.9 791.5,209.5 792.5,209.2 793.5,208.9 794.5,208.6 795.5,208.3 796.5,208.0 797.5,207.7 798.5,207.4 799.5,207.2 800.5,207.0 801.5,206.8 802.5,206.6 803.5,206.5 804.5,206.4 805.5,206.3 806.5,206.3 807.5,206.3 808.5,206.4 809.5,206.4 810.5,206.5 811.5,206.6 812.5,206.8 813.5,207.0 814.5,207.3 815.5,207.6 816.5,207.9 817.5,208.3 818.5,208.7 819.5,209.0 820.5,209.4 821.5,209.7 822.5,210.0 823.5,210.2 824.5,210.5 825.5,210.8 826.5,211.2 827.5,211.5 828.5,211.7 829.5,211.8 830.5,211.9 831.5,211.7 832.5,211.4 833.5,210.8 834.5,210.1 835.5,209.2 836.5,208.2 837.5,207.2 838.5,206.1 839.5,205.0 840.5,204.0 841.5,203.2 842.5,202.4 843.5,201.6 844.5,200.8 845.5,199.9 846.5,198.9 847.5,197.9 848.5,196.9 849.5,195.9 850.5,195.0 851.5,194.0 852.5,193.0 853.5,192.0 854.5,191.1 855.5,190.5 856.5,190.2 857.5,190.1 858.5,190.0 859.5,190.1 860.5,190.1 861.5,190.0 862.5,189.8 863.5,189.5 864.5,189.2 865.5,188.9 866.5,188.6 867.5,188.3 868.5,187.9 869.5,187.5 870.5,187.1 871.5,186.7 872.5,186.3 873.5,185.8 874.5,185.3 875.5,184.8 876.5,184.2 877.5,183.5 878.5,182.7 879.5,181.8 880.5,180.8 881.5,179.7 882.5,178.6 883.5,177.5 884.5,176.3 885.5,175.0 886.5,173.7 887.5,172.3 888.5,171.0 889.5,169.8 890.5,168.7 891.5,167.7 892.5,166.7 893.5,165.8 894.5,164.9 895.5,164.0 896.5,163.2 897.5,162.3 898.5,161.5 899.5,160.7 900.5,160.0 901.5,159.3 902.5,158.7 903.5,158.1 904.5,157.6 905.5,157.1 906.5,156.7 907.5,156.2 908.5,155.7 909.5,155.2 910.5,154.7 911.5,154.3 912.5,153.8 913.5,153.2 914.5,152.6 915.5,151.9 916.5,151.2 917.5,150.4 918.5,149.5 919.5,148.6 920.5,147.6 921.5,146.6 922.5,145.5 923.5,144.5 924.5,143.4" fill="none" stroke="#ffff00" stroke-width="1" />
<polyline points="0.5,409.5 1.5,408.8 2.5,408.1 3.5,407.3 4.5,406.8 5.5,406.5 6.5,406.6 7.5,406.9 8.5,407.4 9.5,407.9 10.5,408.3 11.5,408.5 12.5,408.4 13.5,408.3 14.5,408.0 15.5,407.5 16.5,407.0 17.5,406.2 18.5,405.3 19.5,403.9 20.5,402.2 21.5,400.4 22.5,398.6 23.5,397.0 24.5,395.6 25.5,394.3 26.5,393.2 27.5,392.2 28.5,391.5 29.5,391.2 30.5,391.3 31.5,391.6 32.5,391.7 33.5,391.5 34.5,390.7 35.5,389.6 36.5,388.4 37.5,387.3 38.5,386.5 39.5,386.1 40.5,386.0 41.5,386.0 42.5,386.2 43.5,386.5 44.5,386.9 45.5,387.6 46.5,388.3 47.5,389.0 48.5,389.5 49.5,389.7 50.5,389.8 51.5,389.8 52.5,389.9 53.5,390.2 54.5,391.0 55.5,391.9 56.5,393.0 57.5,394.4 58.5,396.0 59.5,398.1 60.5,400.7 61.5,403.6 62.5,406.6 63.5,409.4 64.5,412.0 65.5,414.4 66.5,416.8 67.5,419.1 68.5,421.1 69.5,423.0 70.5,424.6 71.5,425.8 72.5,427.0 73.5,428.0 74.5,429.0 75.5,430.0 76.5,430.8 77.5,431.7 78.5,432.6 79.5,433.7 80.5,434.9 81.5,436.3 82.5,437.5 83.5,438.5 84.5,439.4 85.5,440.0 86.5,440.3 87.5,440.3 88.5,440.2 89.5,439.9 90.5,439.5 91.5,439.0 92.5,438.5 93.5,437.9 94.5,437.4 95.5,436.8 96.5,436.3 97.5,435.7 98.5,435.1 99.5,434.5 100.5,434.0 101.5,433.5 102.5,433.0 103.5,432.4 104.5,431.5 105.5,430.3 106.5,428.9 107.5,427.3 108.5,425.8 109.5,424.5 110.5,423.4 111.5,422.3 112.5,421.3 113.5,420.4 114.5,419.5 115.5,418.7 116.5,417.9 117.5,417.1 118.5,416.4 119.5,415.5 120.5,414.6 121.5,413.8 122.5,412.8 123.5,411.7 124.5,410.3 125.5,408.7 126.5,406.9 127.5,404.9 128.5,402.7 129.5,400.3 130.5,397.8 131.5,395.3 132.5,392.7 133.5,389.8 134.5,386.3 135.5,382.0 136.5,377.0 137.5,371.4 138.5,365.5 139.5,359.2 140.5,352.7 141.5,346.1 142.5,339.5 143.5,332.7 144.5,325.5 145.5,318.1 146.5,310.6 147.5,303.2 148.5,296.2 149.5,289.6 150.5,283.6 151.5,278.3 152.5,273.4 153.5,268.9 154.5,264.5 155.5,259.9 156.5,255.1 157.5,249.8 158.5,243.9 159.5,237.7 160.5,231.4 161.5,225.1 162.5,218.5 163.5,211.7 164.5,205.2 165.5,199.5 166.5,194.5 167.5,189.8 168.5,185.5 169.5,181.4 170.5,177.5 171.5,173.8 172.5,170.2 173.5,166.8 174.5,163.6 175.5,160.7 176.5,158.1 177.5,156.0 178.5,154.5 179.5,153.5 180.5,152.9 181.5,152.5 182.5,152.3 183.5,152.2 184.5,152.3 185.5,152.5 186.5,152.8 187.5,153.2 188.5,153.6 189.5,154.1 190.5,154.6 191.5,155.3 192.5,156.0 193.5,156.8 194.5,157.6 195.5,158.4 196.5,159.4 197.5,160.5 198.5,161.6 199.5,162.7 200.5,163.7 201.5,164.6 202.5,165.3 203.5,165.9 204.5,166.4 205.5,166.8 206.5,167.2 207.5,167.7 208.5,168.3 209.5,169.0 210.5,169.9 211.5,170.7 212.5,171.6 213.5,172.5 214.5,173.2 215.5,173.9 216.5,174.5 217.5,175.0 218.5,175.5 219.5,175.9 220.5,176.2 221.5,176.3 222.5,176.1 223.5,175.7 224.5,175.1 225.5,174.4 226.5,173.6 227.5,172.7 228.5,171.9 229.5,171.1 230.5,170.5 231.5,169.8 232.5,169.1 233.5,168.3 234.5,167.5 235.5,166.5 236.5,165.4 237.5,164.3 238.5,163.0 239.5,161.7 240.5,160.4 241.5,159.0 242.5,157.5 243.5,156.0 244.5,154.5 245.5,152.9 246.5,151.3 247.5,149.5 248.5,147.6 249.5,145.5 250.5,143.1 251.5,140.4 252.5,137.5 253.5,134.6 254.5,131.7 255.5,129.0 256.5,126.5 257.5,124.3 258.5,122.3 259.5,120.5 260.5,118.8 261.5,117.1 262.5,115.5 263.5,113.8 264.5,112.1 265.5,110.4 266.5,108.8 267.5,107.3 268.5,106.0 269.5,104.9 270.5,104.1 271.5,103.5 272.5,103.0 273.5,102.6 274.5,102.3 275.5,102.0 276.5,101.8 277.5,101.7 278.5,101.6 279.5,101.5 280.5,101.4 281.5,101.3 282.5,101.2 283.5,101.3 284.5,101.5 285.5,101.8 286.5,102.3 287.5,102.8 288.5,103.4 289.5,104.1 290.5,104.9 291.5,105.7 292.5,106.5 293.5,107.2 294.5,107.9 295.5,108.5 296.5,109.0 297.5,109.5 298.5,110.0 299.5,110.4 300.5,110.8 301.5,111.2 302.5,111.5 303.5,111.8 304.5,112.1 305.5,112.3 306.5,112.5 307.5,112.4 308.5,112.1 309.5,111.5 310.5,111.0 311.5,110.7 312.5,110.7 313.5,111.2 314.5,112.3 315.5,113.8 316.5,115.7 317.5,117.7 318.5,119.8 319.5,122.0 320.5,123.9 321.5,125.7 322.5,127.5 323.5,129.3 324.5,131.1 325.5,132.9 326.5,134.8 327.5,136.6 328.5,138.5 329.5,140.5 330.5,142.5 331.5,144.5 332.5,146.6 333.5,148.7 334.5,150.9 335.5,153.1 336.5,155.3 337.5,157.5 338.5,159.8 339.5,162.1 340.5,164.4 341.5,166.8 342.5,169.4 343.5,172.0 344.5,174.8 345.5,177.6 346.5,180.6 347.5,183.6 348.5,186.6 349.5,189.6 350.5,192.5 351.5,195.7 352.5,199.2 353.5,202.5 354.5,205.1 355.5,206.5 356.5,206.6 357.5,206.0 358.5,204.8 359.5,203.3 360.5,201.8 361.5,200.5 362.5,199.5 363.5,198.9 364.5,198.5 365.5,198.2 366.5,198.1 367.5,198.0 368.5,198.0 369.5,198.2 370.5,198.5 371.5,198.9 372.5,199.3 373.5,199.6 374.5,199.8 375.5,199.8 376.5,199.5 377.5,198.9 378.5,198.1 379.5,197.0 380.5,195.8 381.5,194.6 382.5,193.3 383.5,192.1 384.5,191.0 385.5,190.0 386.5,189.1 387.5,188.3 388.5,187.5 389.5,186.7 390.5,185.9 391.5,185.1 392.5,184.3 393.5,183.5 394.5,182.6 395.5,181.7 396.5,180.7 397.5,179.8 398.5,178.9 399.5,178.0 400.5,177.3 401.5,176.7 402.5,176.3 403.5,176.3 404.5,176.5 405.5,176.9 406.5,177.2 407.5,177.5 408.5,177.5 409.5,177.2 410.5,176.5 411.5,175.2 412.5,173.5 413.5,171.4 414.5,169.0 415.5,166.6 416.5,164.3 417.5,162.1 418.5,160.2 419.5,158.6 420.5,157.2 421.5,156.0 422.5,154.9 423.5,154.0 424.5,153.3 425.5,152.7 426.5,152.4 427.5,152.3 428.5,152.4 429.5,152.7 430.5,153.1 431.5,153.5 432.5,154.0 433.5,154.4 434.5,154.9 435.5,155.5 436.5,156.2 437.5,156.9 438.5,157.5 439.5,158.0 440.5,158.4 441.5,158.5 442.5,158.4 443.5,158.1 444.5,157.6 445.5,157.0 446.5,156.3 447.5,155.6 448.5,155.0 449.5,154.4 450.5,154.0 451.5,153.4 452.5,152.9 453.5,152.5 454.5,152.3 455.5,152.5 456.5,153.0 457.5,153.8 458.5,154.8 459.5,155.8 460.5,157.0 461.5,158.3 462.5,159.5 463.5,160.8 464.5,162.2 465.5,163.7 466.5,165.2 467.5,166.7 468.5,168.2 469.5,169.7 470.5,171.0 471.5,172.2 472.5,173.4 473.5,174.5 474.5,175.6 475.5,176.6 476.5,177.7 477.5,178.8 478.5,179.9 479.5,181.2 480.5,182.5 481.5,183.9 482.5,185.1 483.5,186.4 484.5,187.7 485.5,189.1 486.5,190.6 487.5,192.2 488.5,194.0 489.5,196.0 490.5,198.3 491.5,200.8 492.5,203.8 493.5,207.1 494.5,210.6 495.5,214.3 496.5,218.2 497.5,222.0 498.5,225.9 499.5,229.6 500.5,233.2 501.5,236.5 502.5,239.7 503.5,242.8 504.5,245.8 505.5,248.8 506.5,251.8 507.5,254.7 508.5,257.5 509.5,260.4 510.5,263.2 511.5,266.1 512.5,268.9 513.5,271.7 514.5,274.5 515.5,277.2 516.5,279.9 517.5,282.6 518.5,285.3 519.5,287.9 520.5,290.5 521.5,293.0 522.5,295.5 523.5,298.1 524.5,300.7 525.5,303.2 526.5,305.7 527.5,308.1 528.5,310.4 529.5,312.6 530.5,314.6 531.5,316.5 532.5,318.2 533.5,319.7 534.5,321.1 535.5,322.4 536.5,323.6 537.5,324.7 538.5,325.7 539.5,326.7 540.5,327.6 541.5,328.5 542.5,329.4 543.5,330.1 544.5,330.8 545.5,331.3 546.5,331.7 547.5,331.9 548.5,332.0 549.5,332.0 550.5,331.8 551.5,331.6 552.5,331.3 553.5,331.0 554.5,330.6 555.5,330.1 556.5,329.6 557.5,329.1 558.5,328.5 559.5,328.0 560.5,327.5 561.5,327.0 562.5,326.5 563.5,326.0 564.5,325.3 565.5,324.6 566.5,323.6 567.5,322.4 568.5,321.0 569.5,319.2 570.5,316.7 571.5,313.6 572.5,310.2 573.5,306.5 574.5,302.9 575.5,299.5 576.5,296.5 577.5,293.6 578.5,290.8 579.5,287.7 580.5,284.0 581.5,279.7 582.5,274.5 583.5,268.9 584.5,262.9 585.5,256.8 586.5,251.0 587.5,245.4 588.5,239.8 589.5,234.3 590.5,228.8 591.5,223.4 592.5,218.3 593.5,213.3 594.5,208.5 595.5,203.8 596.5,199.3 597.5,195.0 598.5,190.9 599.5,187.1 600.5,183.6 601.5,180.2 602.5,176.9 603.5,173.7 604.5,170.5 605.5,167.3 606.5,164.1 607.5,161.0 608.5,157.9 609.5,154.9 610.5,152.1 611.5,149.3 612.5,146.7 613.5,144.3 614.5,142.0 615.5,139.8 616.5,137.7 617.5,135.8 618.5,133.9 619.5,132.2 620.5,130.5 621.5,128.9 622.5,127.4 623.5,125.9 624.5,124.7 625.5,123.6 626.5,122.8 627.5,122.3 628.5,122.3 629.5,123.4 630.5,125.1 631.5,127.0 632.5,128.8 633.5,130.5 634.5,132.3 635.5,134.0 636.5,135.9 637.5,137.8 638.5,139.9 639.5,142.1 640.5,144.5 641.5,147.2 642.5,150.1 643.5,153.2 644.5,156.4 645.5,159.6 646.5,162.9 647.5,166.0 648.5,169.1 649.5,171.9 650.5,174.7 651.5,177.4 652.5,180.1 653.5,182.7 654.5,185.2 655.5,187.7 656.5,190.2 657.5,192.5 658.5,194.8 659.5,196.9 660.5,199.0 661.5,201.0 662.5,203.0 663.5,204.9 664.5,206.8 665.5,208.7 666.5,210.7 667.5,212.7 668.5,214.5 669.5,215.9 670.5,216.7 671.5,216.8 672.5,216.4 673.5,215.9 674.5,215.5 675.5,215.3 676.5,215.3 677.5,215.2 678.5,215.0 679.5,214.4 680.5,213.4 681.5,211.9 682.5,210.1 683.5,208.1 684.5,206.1 685.5,204.4 686.5,203.0 687.5,201.8 688.5,200.7 689.5,199.6 690.5,198.5 691.5,197.2 692.5,195.6 693.5,193.8 694.5,192.2 695.5,191.1 696.5,190.3 697.5,189.7 698.5,189.2 699.5,188.9 700.5,188.6 701.5,188.5 702.5,188.5 703.5,188.7 704.5,189.1 705.5,189.6 706.5,190.4 707.5,191.5 708.5,192.7 709.5,194.0 710.5,195.3 711.5,196.6 712.5,197.8 713.5,198.9 714.5,200.0 715.5,201.1 716.5,202.2 717.5,203.3 718.5,204.5 719.5,205.8 720.5,207.1 721.5,208.5 722.5,209.9 723.5,211.4 724.5,212.8 725.5,214.1 726.5,215.3 727.5,216.4 728.5,217.5 729.5,218.5 730.5,219.4 731.5,220.2 732.5,220.8 733.5,221.3 734.5,221.5 735.5,221.5 736.5,221.2 737.5,220.7 738.5,220.1 739.5,219.3 740.5,218.3 741.5,217.2 742.5,216.1 743.5,215.0 744.5,214.1 745.5,213.3 746.5,212.6 747.5,211.9 748.5,211.3 749.5,210.8 750.5,210.5 751.5,210.4 752.5,210.6 753.5,210.9 754.5,211.3 755.5,211.5 756.5,211.8 757.5,212.2 758.5,212.5 759.5,212.6 760.5,212.4 761.5,211.9 762.5,211.2 763.5,210.4 764.5,209.6 765.5,208.8 766.5,207.8 767.5,206.9 768.5,206.0 769.5,205.5 770.5,205.3 771.5,205.1 772.5,205.1 773.5,205.2 774.5,205.3 775.5,205.4 776.5,205.5 777.5,205.5 778.5,205.6 779.5,205.6 780.5,205.7 781.5,205.8 782.5,206.0 783.5,206.3 784.5,206.7 785.5,207.5 786.5,208.5 787.5,209.5 788.5,210.3 789.5,210.7 790.5,211.1 791.5,211.2 792.5,211.0 793.5,210.5 794.5,209.5 795.5,208.0 796.5,206.3 797.5,204.7 798.5,203.3 799.5,202.1 800.5,201.1 801.5,200.5 802.5,200.6 803.5,201.2 804.5,202.0 805.5,203.0 806.5,204.0 807.5,205.0 808.5,205.8 809.5,206.7 810.5,207.5 811.5,208.4 812.5,209.2 813.5,209.8 814.5,210.2 815.5,210.4 816.5,210.5 817.5,210.6 818.5,210.5 819.5,210.4 820.5,210.3 821.5,210.2 822.5,210.2 823.5,210.2 824.5,210.4 825.5,210.6 826.5,210.9 827.5,211.2 828.5,211.5 829.5,211.7 830.5,211.7 831.5,211.7 832.5,211.4 833.5,210.8 834.5,209.8 835.5,208.7 836.5,207.5 837.5,206.3 838.5,205.2 839.5,204.2 840.5,203.1 841.5,202.0 842.5,200.7 843.5,199.2 844.5,197.3 845.5,195.3 846.5,193.2 847.5,191.1 848.5,188.9 849.5,186.8 850.5,184.7 851.5,182.5 852.5,180.4 853.5,178.5 854.5,176.9 855.5,175.4 856.5,174.1 857.5,173.0 858.5,172.2 859.5,171.7 860.5,171.4 861.5,171.2 862.5,171.2 863.5,171.2 864.5,171.1 865.5,170.9 866.5,170.5 867.5,169.9 868.5,169.1 869.5,168.2 870.5,167.3 871.5,166.3 872.5,165.3 873.5,164.3 874.5,163.3 875.5,162.2 876.5,161.1 877.5,160.1 878.5,159.2 879.5,158.4 880.5,157.8 881.5,157.2 882.5,156.7 883.5,156.2 884.5,155.9 885.5,155.6 886.5,155.5 887.5,155.4 888.5,155.4 889.5,155.5 890.5,155.6 891.5,155.7 892.5,155.9 893.5,156.2 894.5,156.5 895.5,156.8 896.5,157.0 897.5,157.0 898.5,156.7 899.5,156.1 900.5,155.4 901.5,154.7 902.5,154.1 903.5,153.6 904.5,153.1 905.5,152.7 906.5,152.2 907.5,151.7 908.5,151.1 909.5,150.4 910.5,149.7 911.5,148.8 912.5,147.9 913.5,146.7 914.5,145.4 915.5,143.9 916.5,142.3 917.5,140.7 918.5,139.1 919.5,137.5 920.5,135.9 921.5,134.2 922.5,132.5 923.5,130.6 924.5,128.6" fill="none" stroke="#0000ff" stroke-width="1" />
<g fill="#c0c0c0"><rect x="1" y="547" width="1" height="1"/><rect x="2" y="547" width="1" height="1"/><rect x="3" y="547" width="1" height="1"/><rect x="4" y="547" width="1" height="1"/><rect x="5" y="547" width="1" height="1"/><rect x="6" y="547" width="1" height="1"/><rect x="7" y="547" width="1" height="1"/><rect x="8" y="547" width="1" height="1"/><rect x="9" y="547" width="1" height="1"/><rect x="10" y="547" width="1" height="1"/><rect x="11" y="547" width="1" height="1"/><rect x="12" y="547" width="1" height="1"/><rect x="13" y="547" width="1" height="1"/><rect x="14" y="546" width="1" height="2"/><rect x="15" y="545" width="1" height="3"/><rect x="16" y="544" width="1" height="4"/><rect x="17" y="542" width="1" height="6"/><rect x="18" y="541" width="1" height="7"/><rect x="19" y="540" width="1" height="8"/><rect x="20" y="539" width="1" height="9"/><rect x="21" y="538" width="1" height="10"/><rect x="22" y="537" width="1" height="11"/><rect x="23" y="536" width="1" height="12"/><rect x="24" y="535" width="1" height="13"/><rect x="25" y="535" width="1" height="13"/><rect x="26" y="535" width="1" height="13"/><rect x="27" y="536" width="1" height="12"/><rect x="28" y="537" width="1" height="11"/><rect x="29" y="537" width="1" height="11"/><rect x="30" y="538" width="1" height="10"/><rect x="31" y="539" width="1" height="9"/><rect x="32" y="540" width="1" height="8"/><rect x="33" y="541" width="1" height="7"/><rect x="34" y="541" width="1" height="7"/><rect x="35" y="542" width="1" height="6"/><rect x="36" y="543" width="1" height="5"/><rect x="37" y="544" width="1" height="4"/><rect x="38" y="544" width="1" height="4"/><rect x="39" y="545" width="1" height="3"/><rect x="40" y="546" width="1" height="2"/><rect x="41" y="547" width="1" height="1"/><rect x="42" y="547" width="1" height="1"/><rect x="43" y="547" width="1" height="1"/><rect x="44" y="548" width="1" height="1"/><rect x="45" y="548" width="1" height="1"/><rect x="46" y="548" width="1" height="2"/><rect x="47" y="548" width="1" height="3"/><rect x="48" y="548" width="1" height="3"/><rect x="49" y="548" width="1" height="4"/><rect x="50" y="548" width="1" height="4"/><rect x="51" y="548" width="1" height="5"/><rect x="52" y="548" width="1" height="5"/><rect x="53" y="548" width="1" height="6"/><rect x="54" y="548" width="1" height="6"/><rect x="55" y="548" width="1" height="7"/><rect x="56" y="548" width="1" height="7"/><rect x="57" y="548" width="1" height="8"/><rect x="58" y="548" width="1" height="8"/><rect x="59" y="548" width="1" height="9"/><rect x="60" y="548" width="1" height="9"/><rect x="61" y="548" width="1" height="9"/><rect x="62" y="548" width="1" height="10"/><rect x="63" y="548" width="1" height="10"/><rect x="64" y="548" width="1" height="10"/><rect x="65" y="548" width="1" height="10"/><rect x="66" y="548" width="1" height="10"/><rect x="67" y="548" width="1" height="9"/><rect x="68" y="548" width="1" height="9"/><rect x="69" y="548" width="1" height="8"/><rect x="70" y="548" width="1" height="8"/><rect x="71" y="548" width="1" height="8"/><rect x="72" y="548" width="1" height="8"/><rect x="73" y="548" width="1" height="7"/><rect x="74" y="548" width="1" height="7"/><rect x="75" y="548" width="1" height="7"/><rect x="76" y="548" width="1" height="7"/><rect x="77" y="548" width="1" height="7"/><rect x="78" y="548" width="1" height="7"/><rect x="79" y="548" width="1" height="6"/><rect x="80" y="548" width="1" height="6"/><rect x="81" y="548" width="1" height="5"/><rect x="82" y="548" width="1" height="5"/><rect x="83" y="548" width="1" height="4"/><rect x="84" y="548" width="1" height="4"/><rect x="85" y="548" width="1" height="3"/><rect x="86" y="548" width="1" height="2"/><rect x="87" y="548" width="1" height="2"/><rect x="88" y="548" width="1" height="1"/><rect x="89" y="548" width="1" height="1"/><rect x="90" y="547" width="1" height="1"/><rect x="91" y="547" width="1" height="1"/><rect x="92" y="547" width="1" height="1"/><rect x="93" y="547" width="1" height="1"/><rect x="94" y="546" width="1" height="2"/><rect x="95" y="546" width="1" height="2"/><rect x="96" y="545" width="1" height="3"/><rect x="97" y="545" width="1" height="3"/><rect x="98" y="544" width="1" height="4"/><rect x="99" y="544" width="1" height="4"/><rect x="100" y="543" width="1" height="5"/><rect x="101" y="543" width="1" height="5"/><rect x="102" y="543" width="1" height="5"/><rect x="103" y="542" width="1" height="6"/><rect x="104" y="542" width="1" height="6"/><rect x="105" y="542" width="1" height="6"/><rect x="106" y="542" width="1" height="6"/><rect x="107" y="542" width="1" height="6"/><rect x="108" y="542" width="1" height="6"/><rect x="109" y="543" width="1" height="5"/><rect x="110" y="543" width="1" height="5"/><rect x="111" y="544" width="1" height="4"/><rect x="112" y="544" width="1" height="4"/><rect x="113" y="544" width="1" height="4"/><rect x="114" y="544" width="1" height="4"/><rect x="115" y="544" width="1" height="4"/><rect x="116" y="544" width="1" height="4"/><rect x="117" y="544" width="1" height="4"/><rect x="118" y="544" width="1" height="4"/><rect x="119" y="544" width="1" height="4"/><rect x="120" y="544" width="1" height="4"/><rect x="121" y="544" width="1" height="4"/><rect x="122" y="544" width="1" height="4"/><rect x="123" y="544" width="1" height="4"/><rect x="124" y="544" width="1" height="4"/><rect x="125" y="544" width="1" height="4"/><rect x="126" y="544" width="1" height="4"/><rect x="127" y="543" width="1" height="5"/><rect x="128" y="542" width="1" height="6"/><rect x="129" y="539" width="1" height="9"/><rect x="130" y="536" width="1" height="12"/><rect x="131" y="534" width="1" height="14"/><rect x="132" y="531" width="1" height="17"/><rect x="133" y="528" width="1" height="20"/><rect x="134" y="525" width="1" height="23"/><rect x="135" y="522" width="1" height="26"/><rect x="136" y="519" width="1" height="29"/><rect x="137" y="517" width="1" height="31"/><rect x="138" y="514" width="1" height="34"/><rect x="139" y="512" width="1" height="36"/><rect x="140" y="510" width="1" height="38"/><rect x="141" y="508" width="1" height="40"/><rect x="142" y="506" width="1" height="42"/><rect x="143" y="504" width="1" height="44"/><rect x="144" y="503" width="1" height="45"/><rect x="145" y="502" width="1" height="46"/><rect x="146" y="501" width="1" height="47"/><rect x="147" y="500" width="1" height="48"/><rect x="148" y="499" width="1" height="49"/><rect x="149" y="499" width="1" height="49"/><rect x="150" y="498" width="1" height="50"/><rect x="151" y="498" width="1" height="50"/><rect x="152" y="498" width="1" height="50"/><rect x="153" y="497" width="1" height="51"/><rect x="154" y="497" width="1" height="51"/><rect x="155" y="498" width="1" height="50"/><rect x="156" y="498" width="1" height="50"/><rect x="157" y="499" width="1" height="49"/><rect x="158" y="500" width="1" height="48"/><rect x="159" y="502" width="1" height="46"/><rect x="160" y="503" width="1" height="45"/><rect x="161" y="505" width="1" height="43"/><rect x="162" y="506" width="1" height="42"/><rect x="163" y="508" width="1" height="40"/><rect x="164" y="509" width="1" height="39"/><rect x="165" y="510" width="1" height="38"/><rect x="166" y="511" width="1" height="37"/><rect x="167" y="511" width="1" height="37"/><rect x="168" y="512" width="1" height="36"/><rect x="169" y="513" width="1" height="35"/><rect x="170" y="514" width="1" height="34"/><rect x="171" y="514" width="1" height="34"/><rect x="172" y="515" width="1" height="33"/><rect x="173" y="517" width="1" height="31"/><rect x="174" y="518" width="1" height="30"/><rect x="175" y="519" width="1" height="29"/><rect x="176" y="520" width="1" height="28"/><rect x="177" y="522" width="1" height="26"/><rect x="178" y="523" width="1" height="25"/><rect x="179" y="524" width="1" height="24"/><rect x="180" y="526" width="1" height="22"/><rect x="181" y="527" width="1" height="21"/><rect x="182" y="528" width="1" height="20"/><rect x="183" y="529" width="1" height="19"/><rect x="184" y="530" width="1" height="18"/><rect x="185" y="531" width="1" height="17"/><rect x="186" y="532" width="1" height="16"/><rect x="187" y="533" width="1" height="15"/><rect x="188" y="533" width="1" height="15"/><rect x="189" y="534" width="1" height="14"/><rect x="190" y="534" width="1" height="14"/><rect x="191" y="535" width="1" height="13"/><rect x="192" y="535" width="1" height="13"/><rect x="193" y="535" width="1" height="13"/><rect x="194" y="536" width="1" height="12"/><rect x="195" y="536" width="1" height="12"/><rect x="196" y="537" width="1" height="11"/><rect x="197" y="537" width="1" height="11"/><rect x="198" y="538" width="1" height="10"/><rect x="199" y="538" width="1" height="10"/><rect x="200" y="539" width="1" height="9"/><rect x="201" y="539" width="1" height="9"/><rect x="202" y="539" width="1" height="9"/><rect x="203" y="540" width="1" height="8"/><rect x="204" y="541" width="1" height="7"/><rect x="205" y="541" width="1" height="7"/><rect x="206" y="542" width="1" height="6"/><rect x="207" y="542" width="1" height="6"/><rect x="208" y="543" width="1" height="5"/><rect x="209" y="544" width="1" height="4"/><rect x="210" y="545" width="1" height="3"/><rect x="211" y="546" width="1" height="2"/><rect x="212" y="546" width="1" height="2"/><rect x="213" y="546" width="1" height="2"/><rect x="214" y="545" width="1" height="3"/><rect x="215" y="545" width="1" height="3"/><rect x="216" y="545" width="1" height="3"/><rect x="217" y="545" width="1" height="3"/><rect x="218" y="544" width="1" height="4"/><rect x="219" y="544" width="1" height="4"/><rect x="220" y="544" width="1" height="4"/><rect x="221" y="543" width="1" height="5"/><rect x="222" y="543" width="1" height="5"/><rect x="223" y="543" width="1" height="5"/><rect x="224" y="543" width="1" height="5"/><rect x="225" y="542" width="1" height="6"/><rect x="226" y="542" width="1" height="6"/><rect x="227" y="542" width="1" height="6"/><rect x="228" y="542" width="1" height="6"/><rect x="229" y="541" width="1" height="7"/><rect x="230" y="541" width="1" height="7"/><rect x="231" y="541" width="1" height="7"/><rect x="232" y="541" width="1" height="7"/><rect x="233" y="540" width="1" height="8"/><rect x="234" y="540" width="1" height="8"/><rect x="235" y="540" width="1" height="8"/><rect x="236" y="540" width="1" height="8"/><rect x="237" y="540" width="1" height="8"/><rect x="238" y="539" width="1" height="9"/><rect x="239" y="539" width="1" height="9"/><rect x="240" y="539" width="1" height="9"/><rect x="241" y="539" width="1" height="9"/><rect x="242" y="538" width="1" height="10"/><rect x="243" y="538" width="1" height="10"/><rect x="244" y="537" width="1" height="11"/><rect x="245" y="536" width="1" height="12"/><rect x="246" y="535" width="1" height="13"/><rect x="247" y="535" width="1" height="13"/><rect x="248" y="534" width="1" height="14"/><rect x="249" y="533" width="1" height="15"/><rect x="250" y="532" width="1" height="16"/><rect x="251" y="531" width="1" height="17"/><rect x="252" y="531" width="1" height="17"/><rect x="253" y="531" width="1" height="17"/><rect x="254" y="531" width="1" height="17"/><rect x="255" y="531" width="1" height="17"/><rect x="256" y="531" width="1" height="17"/><rect x="257" y="531" width="1" height="17"/><rect x="258" y="532" width="1" height="16"/><rect x="259" y="532" width="1" height="16"/><rect x="260" y="532" width="1" height="16"/><rect x="261" y="532" width="1" height="16"/><rect x="262" y="533" width="1" height="15"/><rect x="263" y="533" width="1" height="15"/><rect x="264" y="534" width="1" height="14"/><rect x="265" y="534" width="1" height="14"/><rect x="266" y="534" width="1" height="14"/><rect x="267" y="535" width="1" height="13"/><rect x="268" y="535" width="1" height="13"/><rect x="269" y="536" width="1" height="12"/><rect x="270" y="536" width="1" height="12"/><rect x="271" y="537" width="1" height="11"/><rect x="272" y="538" width="1" height="10"/><rect x="273" y="538" width="1" height="10"/><rect x="274" y="539" width="1" height="9"/><rect x="275" y="540" width="1" height="8"/><rect x="276" y="542" width="1" height="6"/><rect x="277" y="543" width="1" height="5"/><rect x="278" y="544" width="1" height="4"/><rect x="279" y="545" width="1" height="3"/><rect x="280" y="546" width="1" height="2"/><rect x="281" y="546" width="1" height="2"/><rect x="282" y="547" width="1" height="1"/><rect x="283" y="547" width="1" height="1"/><rect x="284" y="547" width="1" height="1"/><rect x="285" y="547" width="1" height="1"/><rect x="286" y="547" width="1" height="1"/><rect x="287" y="547" width="1" height="1"/><rect x="288" y="547" width="1" height="1"/><rect x="289" y="547" width="1" height="1"/><rect x="290" y="547" width="1" height="1"/><rect x="291" y="547" width="1" height="1"/><rect x="292" y="546" width="1" height="2"/><rect x="293" y="546" width="1" height="2"/><rect x="294" y="545" width="1" height="3"/><rect x="295" y="545" width="1" height="3"/><rect x="296" y="545" width="1" height="3"/><rect x="297" y="545" width="1" height="3"/><rect x="298" y="545" width="1" height="3"/><rect x="299" y="545" width="1" height="3"/><rect x="300" y="545" width="1" height="3"/><rect x="301" y="544" width="1" height="4"/><rect x="302" y="544" width="1" height="4"/><rect x="303" y="544" width="1" height="4"/><rect x="304" y="543" width="1" height="5"/><rect x="305" y="543" width="1" height="5"/><rect x="306" y="543" width="1" height="5"/><rect x="307" y="542" width="1" height="6"/><rect x="308" y="542" width="1" height="6"/><rect x="309" y="542" width="1" height="6"/><rect x="310" y="542" width="1" height="6"/><rect x="311" y="542" width="1" height="6"/><rect x="312" y="542" width="1" height="6"/><rect x="313" y="543" width="1" height="5"/><rect x="314" y="543" width="1" height="5"/><rect x="315" y="544" width="1" height="4"/><rect x="316" y="545" width="1" height="3"/><rect x="317" y="547" width="1" height="1"/><rect x="318" y="548" width="1" height="4"/><rect x="319" y="548" width="1" height="8"/><rect x="320" y="548" width="1" height="10"/><rect x="321" y="548" width="1" height="12"/><rect x="322" y="548" width="1" height="13"/><rect x="323" y="548" width="1" height="14"/><rect x="324" y="548" width="1" height="15"/><rect x="325" y="548" width="1" height="16"/><rect x="326" y="548" width="1" height="17"/><rect x="327" y="548" width="1" height="17"/><rect x="328" y="548" width="1" height="18"/><rect x="329" y="548" width="1" height="18"/><rect x="330" y="548" width="1" height="19"/><rect x="331" y="548" width="1" height="19"/><rect x="332" y="548" width="1" height="19"/><rect x="333" y="548" width="1" height="19"/><rect x="334" y="548" width="1" height="19"/><rect x="335" y="548" width="1" height="19"/><rect x="336" y="548" width="1" height="19"/><rect x="337" y="548" width="1" height="19"/><rect x="338" y="548" width="1" height="18"/><rect x="339" y="548" width="1" height="18"/><rect x="340" y="548" width="1" height="18"/><rect x="341" y="548" width="1" height="17"/><rect x="342" y="548" width="1" height="16"/><rect x="343" y="548" width="1" height="16"/><rect x="344" y="548" width="1" height="15"/><rect x="345" y="548" width="1" height="15"/><rect x="346" y="548" width="1" height="14"/><rect x="347" y="548" width="1" height="14"/><rect x="348" y="548" width="1" height="14"/><rect x="349" y="548" width="1" height="13"/><rect x="350" y="548" width="1" height="13"/><rect x="351" y="548" width="1" height="12"/><rect x="352" y="548" width="1" height="12"/><rect x="353" y="548" width="1" height="11"/><rect x="354" y="548" width="1" height="10"/><rect x="355" y="548" width="1" height="9"/><rect x="356" y="548" width="1" height="8"/><rect x="357" y="548" width="1" height="7"/><rect x="358" y="548" width="1" height="6"/><rect x="359" y="548" width="1" height="5"/><rect x="360" y="548" width="1" height="4"/><rect x="361" y="548" width="1" height="3"/><rect x="362" y="548" width="1" height="3"/><rect x="363" y="548" width="1" height="3"/><rect x="364" y="548" width="1" height="3"/><rect x="365" y="548" width="1" height="3"/><rect x="366" y="548" width="1" height="3"/><rect x="367" y="548" width="1" height="3"/><rect x="368" y="548" width="1" height="4"/><rect x="369" y="548" width="1" height="5"/><rect x="370" y="548" width="1" height="5"/><rect x="371" y="548" width="1" height="6"/><rect x="372" y="548" width="1" height="7"/><rect x="373" y="548" width="1" height="8"/><rect x="374" y="548" width="1" height="8"/><rect x="375" y="548" width="1" height="8"/><rect x="376" y="548" width="1" height="7"/><rect x="377" y="548" width="1" height="7"/><rect x="378" y="548" width="1" height="6"/><rect x="379" y="548" width="1" height="5"/><rect x="380" y="548" width="1" height="4"/><rect x="381" y="548" width="1" height="3"/><rect x="382" y="548" width="1" height="2"/><rect x="383" y="548" width="1" height="1"/><rect x="384" y="547" width="1" height="1"/><rect x="385" y="547" width="1" height="1"/><rect x="386" y="546" width="1" height="2"/><rect x="387" y="546" width="1" height="2"/><rect x="388" y="546" width="1" height="2"/><rect x="389" y="545" width="1" height="3"/><rect x="390" y="545" width="1" height="3"/><rect x="391" y="544" width="1" height="4"/><rect x="392" y="543" width="1" height="5"/><rect x="393" y="543" width="1" height="5"/><rect x="394" y="542" width="1" height="6"/><rect x="395" y="541" width="1" height="7"/><rect x="396" y="541" width="1" height="7"/><rect x="397" y="541" width="1" height="7"/><rect x="398" y="540" width="1" height="8"/><rect x="399" y="541" width="1" height="7"/><rect x="400" y="542" width="1" height="6"/><rect x="401" y="543" width="1" height="5"/><rect x="402" y="544" width="1" height="4"/><rect x="403" y="545" width="1" height="3"/><rect x="404" y="545" width="1" height="3"/><rect x="405" y="545" width="1" height="3"/><rect x="406" y="545" width="1" height="3"/><rect x="407" y="545" width="1" height="3"/><rect x="408" y="544" width="1" height="4"/><rect x="409" y="544" width="1" height="4"/><rect x="410" y="544" width="1" height="4"/><rect x="411" y="544" width="1" height="4"/><rect x="412" y="543" width="1" height="5"/><rect x="413" y="543" width="1" height="5"/><rect x="414" y="543" width="1" height="5"/><rect x="415" y="542" width="1" height="6"/><rect x="416" y="542" width="1" height="6"/><rect x="417" y="541" width="1" height="7"/><rect x="418" y="540" width="1" height="8"/><rect x="419" y="540" width="1" height="8"/><rect x="420" y="539" width="1" height="9"/><rect x="421" y="539" width="1" height="9"/><rect x="422" y="539" width="1" height="9"/><rect x="423" y="539" width="1" height="9"/><rect x="424" y="540" width="1" height="8"/><rect x="425" y="540" width="1" height="8"/><rect x="426" y="541" width="1" height="7"/><rect x="427" y="542" width="1" height="6"/><rect x="428" y="542" width="1" height="6"/><rect x="429" y="543" width="1" height="5"/><rect x="430" y="544" width="1" height="4"/><rect x="431" y="545" width="1" height="3"/><rect x="432" y="546" width="1" height="2"/><rect x="433" y="547" width="1" height="1"/><rect x="434" y="547" width="1" height="1"/><rect x="435" y="548" width="1" height="1"/><rect x="436" y="548" width="1" height="2"/><rect x="437" y="548" width="1" height="2"/><rect x="438" y="548" width="1" height="2"/><rect x="439" y="548" width="1" height="2"/><rect x="440" y="548" width="1" height="1"/><rect x="441" y="548" width="1" height="1"/><rect x="442" y="547" width="1" height="1"/><rect x="443" y="547" width="1" height="1"/><rect x="444" y="547" width="1" height="1"/><rect x="445" y="547" width="1" height="1"/><rect x="446" y="546" width="1" height="2"/><rect x="447" y="545" width="1" height="3"/><rect x="448" y="545" width="1" height="3"/><rect x="449" y="545" width="1" height="3"/><rect x="450" y="544" width="1" height="4"/><rect x="451" y="544" width="1" height="4"/><rect x="452" y="544" width="1" height="4"/><rect x="453" y="544" width="1" height="4"/><rect x="454" y="544" width="1" height="4"/><rect x="455" y="545" width="1" height="3"/><rect x="456" y="546" width="1" height="2"/><rect x="457" y="546" width="1" height="2"/><rect x="458" y="546" width="1" height="2"/><rect x="459" y="547" width="1" height="1"/><rect x="460" y="547" width="1" height="1"/><rect x="461" y="547" width="1" height="1"/><rect x="462" y="547" width="1" height="1"/><rect x="463" y="548" width="1" height="1"/><rect x="464" y="548" width="1" height="2"/><rect x="465" y="548" width="1" height="2"/><rect x="466" y="548" width="1" height="3"/><rect x="467" y="548" width="1" height="4"/><rect x="468" y="548" width="1" height="5"/><rect x="469" y="548" width="1" height="5"/><rect x="470" y="548" width="1" height="6"/><rect x="471" y="548" width="1" height="6"/><rect x="472" y="548" width="1" height="7"/><rect x="473" y="548" width="1" height="7"/><rect x="474" y="548" width="1" height="8"/><rect x="475" y="548" width="1" height="8"/><rect x="476" y="548" width="1" height="8"/><rect x="477" y="548" width="1" height="9"/><rect x="478" y="548" width="1" height="9"/><rect x="479" y="548" width="1" height="9"/><rect x="480" y="548" width="1" height="9"/><rect x="481" y="548" width="1" height="10"/><rect x="482" y="548" width="1" height="10"/><rect x="483" y="548" width="1" height="10"/><rect x="484" y="548" width="1" height="10"/><rect x="485" y="548" width="1" height="10"/><rect x="486" y="548" width="1" height="10"/><rect x="487" y="548" width="1" height="10"/><rect x="488" y="548" width="1" height="11"/><rect x="489" y="548" width="1" height="11"/><rect x="490" y="548" width="1" height="12"/><rect x="491" y="548" width="1" height="13"/><rect x="492" y="548" width="1" height="14"/><rect x="493" y="548" width="1" height="16"/><rect x="494" y="548" width="1" height="17"/><rect x="495" y="548" width="1" height="18"/><rect x="496" y="548" width="1" height="19"/><rect x="497" y="548" width="1" height="19"/><rect x="498" y="548" width="1" height="20"/><rect x="499" y="548" width="1" height="21"/><rect x="500" y="548" width="1" height="22"/><rect x="501" y="548" width="1" height="22"/><rect x="502" y="548" width="1" height="23"/><rect x="503" y="548" width="1" height="23"/><rect x="504" y="548" width="1" height="24"/><rect x="505" y="548" width="1" height="24"/><rect x="506" y="548" width="1" height="24"/><rect x="507" y="548" width="1" height="25"/><rect x="508" y="548" width="1" height="25"/><rect x="509" y="548" width="1" height="25"/><rect x="510" y="548" width="1" height="25"/><rect x="511" y="548" width="1" height="25"/><rect x="512" y="548" width="1" height="24"/><rect x="513" y="548" width="1" height="24"/><rect x="514" y="548" width="1" height="24"/><rect x="515" y="548" width="1" height="23"/><rect x="516" y="548" width="1" height="23"/><rect x="517" y="548" width="1" height="23"/><rect x="518" y="548" width="1" height="22"/><rect x="519" y="548" width="1" height="22"/><rect x="520" y="548" width="1" height="22"/><rect x="521" y="548" width="1" height="21"/><rect x="522" y="548" width="1" height="21"/><rect x="523" y="548" width="1" height="21"/><rect x="524" y="548" width="1" height="20"/><rect x="525" y="548" width="1" height="20"/><rect x="526" y="548" width="1" height="20"/><rect x="527" y="548" width="1" height="19"/><rect x="528" y="548" width="1" height="19"/><rect x="529" y="548" width="1" height="19"/><rect x="530" y="548" width="1" height="18"/><rect x="531" y="548" width="1" height="18"/><rect x="532" y="548" width="1" height="18"/><rect x="533" y="548" width="1" height="18"/><rect x="534" y="548" width="1" height="17"/><rect x="535" y="548" width="1" height="17"/><rect x="536" y="548" width="1" height="17"/><rect x="537" y="548" width="1" height="17"/><rect x="538" y="548" width="1" height="16"/><rect x="539" y="548" width="1" height="16"/><rect x="540" y="548" width="1" height="16"/><rect x="541" y="548" width="1" height="15"/><rect x="542" y="548" width="1" height="15"/><rect x="543" y="548" width="1" height="14"/><rect x="544" y="548" width="1" height="13"/><rect x="545" y="548" width="1" height="12"/><rect x="546" y="548" width="1" height="12"/><rect x="547" y="548" width="1" height="11"/><rect x="548" y="548" width="1" height="10"/><rect x="549" y="548" width="1" height="9"/><rect x="550" y="548" width="1" height="8"/><rect x="551" y="548" width="1" height="7"/><rect x="552" y="548" width="1" height="6"/><rect x="553" y="548" width="1" height="5"/><rect x="554" y="548" width="1" height="3"/><rect x="555" y="548" width="1" height="3"/><rect x="556" y="548" width="1" height="2"/><rect x="557" y="548" width="1" height="2"/><rect x="558" y="548" width="1" height="1"/><rect x="559" y="548" width="1" height="1"/><rect x="560" y="548" width="1" height="1"/><rect x="561" y="548" width="1" height="1"/><rect x="562" y="547" width="1" height="1"/><rect x="563" y="547" width="1" height="1"/><rect x="564" y="547" width="1" height="1"/><rect x="565" y="547" width="1" height="1"/><rect x="566" y="545" width="1" height="3"/><rect x="567" y="544" width="1" height="4"/><rect x="568" y="543" width="1" height="5"/><rect x="569" y="541" width="1" height="7"/><rect x="570" y="540" width="1" height="8"/><rect x="571" y="538" width="1" height="10"/><rect x="572" y="537" width="1" height="11"/><rect x="573" y="535" width="1" height="13"/><rect x="574" y="533" width="1" height="15"/><rect x="575" y="532" width="1" height="16"/><rect x="576" y="530" width="1" height="18"/><rect x="577" y="529" width="1" height="19"/><rect x="578" y="527" width="1" height="21"/><rect x="579" y="526" width="1" height="22"/><rect x="580" y="525" width="1" height="23"/><rect x="581" y="523" width="1" height="25"/><rect x="582" y="522" width="1" height="26"/><rect x="583" y="521" width="1" height="27"/><rect x="584" y="520" width="1" height="28"/><rect x="585" y="520" width="1" height="28"/><rect x="586" y="519" width="1" height="29"/><rect x="587" y="518" width="1" height="30"/><rect x="588" y="518" width="1" height="30"/><rect x="589" y="517" width="1" height="31"/><rect x="590" y="517" width="1" height="31"/><rect x="591" y="516" width="1" height="32"/><rect x="592" y="516" width="1" height="32"/><rect x="593" y="515" width="1" height="33"/><rect x="594" y="515" width="1" height="33"/><rect x="595" y="515" width="1" height="33"/><rect x="596" y="514" width="1" height="34"/><rect x="597" y="514" width="1" height="34"/><rect x="598" y="514" width="1" height="34"/><rect x="599" y="514" width="1" height="34"/><rect x="600" y="515" width="1" height="33"/><rect x="601" y="515" width="1" height="33"/><rect x="602" y="515" width="1" height="33"/><rect x="603" y="516" width="1" height="32"/><rect x="604" y="517" width="1" height="31"/><rect x="605" y="517" width="1" height="31"/><rect x="606" y="518" width="1" height="30"/><rect x="607" y="519" width="1" height="29"/><rect x="608" y="520" width="1" height="28"/><rect x="609" y="521" width="1" height="27"/><rect x="610" y="522" width="1" height="26"/><rect x="611" y="522" width="1" height="26"/><rect x="612" y="523" width="1" height="25"/><rect x="613" y="524" width="1" height="24"/><rect x="614" y="524" width="1" height="24"/><rect x="615" y="525" width="1" height="23"/><rect x="616" y="526" width="1" height="22"/><rect x="617" y="526" width="1" height="22"/><rect x="618" y="527" width="1" height="21"/><rect x="619" y="527" width="1" height="21"/><rect x="620" y="527" width="1" height="21"/><rect x="621" y="528" width="1" height="20"/><rect x="622" y="528" width="1" height="20"/><rect x="623" y="529" width="1" height="19"/><rect x="624" y="529" width="1" height="19"/><rect x="625" y="530" width="1" height="18"/><rect x="626" y="531" width="1" height="17"/><rect x="627" y="533" width="1" height="15"/><rect x="628" y="534" width="1" height="14"/><rect x="629" y="536" width="1" height="12"/><rect x="630" y="538" width="1" height="10"/><rect x="631" y="540" width="1" height="8"/><rect x="632" y="542" width="1" height="6"/><rect x="633" y="545" width="1" height="3"/><rect x="634" y="547" width="1" height="1"/><rect x="635" y="548" width="1" height="1"/><rect x="636" y="548" width="1" height="3"/><rect x="637" y="548" width="1" height="5"/><rect x="638" y="548" width="1" height="7"/><rect x="639" y="548" width="1" height="9"/><rect x="640" y="548" width="1" height="10"/><rect x="641" y="548" width="1" height="11"/><rect x="642" y="548" width="1" height="11"/><rect x="643" y="548" width="1" height="12"/><rect x="644" y="548" width="1" height="13"/><rect x="645" y="548" width="1" height="13"/><rect x="646" y="548" width="1" height="14"/><rect x="647" y="548" width="1" height="14"/><rect x="648" y="548" width="1" height="15"/><rect x="649" y="548" width="1" height="15"/><rect x="650" y="548" width="1" height="16"/><rect x="651" y="548" width="1" height="16"/><rect x="652" y="548" width="1" height="16"/><rect x="653" y="548" width="1" height="16"/><rect x="654" y="548" width="1" height="16"/><rect x="655" y="548" width="1" height="16"/><rect x="656" y="548" width="1" height="15"/><rect x="657" y="548" width="1" height="15"/><rect x="658" y="548" width="1" height="14"/><rect x="659" y="548" width="1" height="13"/><rect x="660" y="548" width="1" height="12"/><rect x="661" y="548" width="1" height="12"/><rect x="662" y="548" width="1" height="11"/><rect x="663" y="548" width="1" height="10"/><rect x="664" y="548" width="1" height="9"/><rect x="665" y="548" width="1" height="8"/><rect x="666" y="548" width="1" height="7"/><rect x="667" y="548" width="1" height="6"/><rect x="668" y="548" width="1" height="5"/><rect x="669" y="548" width="1" height="4"/><rect x="670" y="548" width="1" height="2"/><rect x="671" y="548" width="1" height="1"/><rect x="672" y="547" width="1" height="1"/><rect x="673" y="547" width="1" height="1"/><rect x="674" y="546" width="1" height="2"/><rect x="675" y="546" width="1" height="2"/><rect x="676" y="545" width="1" height="3"/><rect x="677" y="545" width="1" height="3"/><rect x="678" y="545" width="1" height="3"/><rect x="679" y="544" width="1" height="4"/><rect x="680" y="544" width="1" height="4"/><rect x="681" y="544" width="1" height="4"/><rect x="682" y="544" width="1" height="4"/><rect x="683" y="545" width="1" height="3"/><rect x="684" y="545" width="1" height="3"/><rect x="685" y="545" width="1" height="3"/><rect x="686" y="546" width="1" height="2"/><rect x="687" y="546" width="1" height="2"/><rect x="688" y="546" width="1" height="2"/><rect x="689" y="546" width="1" height="2"/><rect x="690" y="545" width="1" height="3"/><rect x="691" y="545" width="1" height="3"/><rect x="692" y="545" width="1" height="3"/><rect x="693" y="545" width="1" height="3"/><rect x="694" y="545" width="1" height="3"/><rect x="695" y="545" width="1" height="3"/><rect x="696" y="545" width="1" height="3"/><rect x="697" y="546" width="1" height="2"/><rect x="698" y="546" width="1" height="2"/><rect x="699" y="547" width="1" height="1"/><rect x="700" y="547" width="1" height="1"/><rect x="701" y="547" width="1" height="1"/><rect x="702" y="548" width="1" height="1"/><rect x="703" y="548" width="1" height="2"/><rect x="704" y="548" width="1" height="3"/><rect x="705" y="548" width="1" height="4"/><rect x="706" y="548" width="1" height="5"/><rect x="707" y="548" width="1" height="6"/><rect x="708" y="548" width="1" height="7"/><rect x="709" y="548" width="1" height="7"/><rect x="710" y="548" width="1" height="8"/><rect x="711" y="548" width="1" height="8"/><rect x="712" y="548" width="1" height="8"/><rect x="713" y="548" width="1" height="9"/><rect x="714" y="548" width="1" height="9"/><rect x="715" y="548" width="1" height="9"/><rect x="716" y="548" width="1" height="9"/><rect x="717" y="548" width="1" height="8"/><rect x="718" y="548" width="1" height="8"/><rect x="719" y="548" width="1" height="8"/><rect x="720" y="548" width="1" height="8"/><rect x="721" y="548" width="1" height="7"/><rect x="722" y="548" width="1" height="7"/><rect x="723" y="548" width="1" height="7"/><rect x="724" y="548" width="1" height="6"/><rect x="725" y="548" width="1" height="6"/><rect x="726" y="548" width="1" height="6"/><rect x="727" y="548" width="1" height="6"/><rect x="728" y="548" width="1" height="5"/><rect x="729" y="548" width="1" height="5"/><rect x="730" y="548" width="1" height="5"/><rect x="731" y="548" width="1" height="4"/><rect x="732" y="548" width="1" height="4"/><rect x="733" y="548" width="1" height="3"/><rect x="734" y="548" width="1" height="2"/><rect x="735" y="547" width="1" height="1"/><rect x="736" y="547" width="1" height="1"/><rect x="737" y="546" width="1" height="2"/><rect x="738" y="546" width="1" height="2"/><rect x="739" y="545" width="1" height="3"/><rect x="740" y="544" width="1" height="4"/><rect x="741" y="544" width="1" height="4"/><rect x="742" y="543" width="1" height="5"/><rect x="743" y="543" width="1" height="5"/><rect x="744" y="542" width="1" height="6"/><rect x="745" y="542" width="1" height="6"/><rect x="746" y="542" width="1" height="6"/><rect x="747" y="542" width="1" height="6"/><rect x="748" y="542" width="1" height="6"/><rect x="749" y="543" width="1" height="5"/><rect x="750" y="544" width="1" height="4"/><rect x="751" y="546" width="1" height="2"/><rect x="752" y="547" width="1" height="1"/><rect x="753" y="548" width="1" height="1"/><rect x="754" y="548" width="1" height="3"/><rect x="755" y="548" width="1" height="4"/><rect x="756" y="548" width="1" height="5"/><rect x="757" y="548" width="1" height="5"/><rect x="758" y="548" width="1" height="5"/><rect x="759" y="548" width="1" height="4"/><rect x="760" y="548" width="1" height="3"/><rect x="761" y="548" width="1" height="2"/><rect x="762" y="548" width="1" height="1"/><rect x="763" y="547" width="1" height="1"/><rect x="764" y="547" width="1" height="1"/><rect x="765" y="547" width="1" height="1"/><rect x="766" y="546" width="1" height="2"/><rect x="767" y="546" width="1" height="2"/><rect x="768" y="546" width="1" height="2"/><rect x="769" y="547" width="1" height="1"/><rect x="770" y="547" width="1" height="1"/><rect x="771" y="547" width="1" height="1"/><rect x="772" y="547" width="1" height="1"/><rect x="773" y="547" width="1" height="1"/><rect x="774" y="547" width="1" height="1"/><rect x="775" y="547" width="1" height="1"/><rect x="776" y="547" width="1" height="1"/><rect x="777" y="546" width="1" height="2"/><rect x="778" y="546" width="1" height="2"/><rect x="779" y="545" width="1" height="3"/><rect x="780" y="544" width="1" height="4"/><rect x="781" y="544" width="1" height="4"/><rect x="782" y="544" width="1" height="4"/><rect x="783" y="544" width="1" height="4"/><rect x="784" y="544" width="1" height="4"/><rect x="785" y="545" width="1" height="3"/><rect x="786" y="545" width="1" height="3"/><rect x="787" y="546" width="1" height="2"/><rect x="788" y="546" width="1" height="2"/><rect x="789" y="546" width="1" height="2"/><rect x="790" y="546" width="1" height="2"/><rect x="791" y="546" width="1" height="2"/><rect x="792" y="546" width="1" height="2"/><rect x="793" y="546" width="1" height="2"/><rect x="794" y="546" width="1" height="2"/><rect x="795" y="546" width="1" height="2"/><rect x="796" y="546" width="1" height="2"/><rect x="797" y="546" width="1" height="2"/><rect x="798" y="546" width="1" height="2"/><rect x="799" y="547" width="1" height="1"/><rect x="800" y="547" width="1" height="1"/><rect x="801" y="547" width="1" height="1"/><rect x="802" y="547" width="1" height="1"/><rect x="803" y="547" width="1" height="1"/><rect x="804" y="548" width="1" height="1"/><rect x="805" y="548" width="1" height="1"/><rect x="806" y="548" width="1" height="2"/><rect x="807" y="548" width="1" height="2"/><rect x="808" y="548" width="1" height="3"/><rect x="809" y="548" width="1" height="3"/><rect x="810" y="548" width="1" height="3"/><rect x="811" y="548" width="1" height="4"/><rect x="812" y="548" width="1" height="4"/><rect x="813" y="548" width="1" height="4"/><rect x="814" y="548" width="1" height="3"/><rect x="815" y="548" width="1" height="3"/><rect x="816" y="548" width="1" height="2"/><rect x="817" y="548" width="1" height="2"/><rect x="818" y="548" width="1" height="1"/><rect x="819" y="547" width="1" height="1"/><rect x="820" y="547" width="1" height="1"/><rect x="821" y="547" width="1" height="1"/><rect x="822" y="547" width="1" height="1"/><rect x="823" y="547" width="1" height="1"/><rect x="824" y="547" width="1" height="1"/><rect x="825" y="547" width="1" height="1"/><rect x="826" y="547" width="1" height="1"/><rect x="827" y="547" width="1" height="1"/><rect x="828" y="547" width="1" height="1"/><rect x="829" y="547" width="1" height="1"/><rect x="830" y="547" width="1" height="1"/><rect x="831" y="547" width="1" height="1"/><rect x="832" y="547" width="1" height="1"/><rect x="833" y="546" width="1" height="2"/><rect x="834" y="545" width="1" height="3"/><rect x="835" y="544" width="1" height="4"/><rect x="836" y="543" width="1" height="5"/><rect x="837" y="542" width="1" height="6"/><rect x="838" y="541" width="1" height="7"/><rect x="839" y="539" width="1" height="9"/><rect x="840" y="538" width="1" height="10"/><rect x="841" y="537" width="1" height="11"/><rect x="842" y="536" width="1" height="12"/><rect x="843" y="535" width="1" height="13"/><rect x="844" y="535" width="1" height="13"/><rect x="845" y="534" width="1" height="14"/><rect x="846" y="533" width="1" height="15"/><rect x="847" y="533" width="1" height="15"/><rect x="848" y="533" width="1" height="15"/><rect x="849" y="533" width="1" height="15"/><rect x="850" y="533" width="1" height="15"/><rect x="851" y="533" width="1" height="15"/><rect x="852" y="533" width="1" height="15"/><rect x="853" y="534" width="1" height="14"/><rect x="854" y="535" width="1" height="13"/><rect x="855" y="535" width="1" height="13"/><rect x="856" y="537" width="1" height="11"/><rect x="857" y="538" width="1" height="10"/><rect x="858" y="539" width="1" height="9"/><rect x="859" y="541" width="1" height="7"/><rect x="860" y="542" width="1" height="6"/><rect x="861" y="543" width="1" height="5"/><rect x="862" y="544" width="1" height="4"/><rect x="863" y="545" width="1" height="3"/><rect x="864" y="545" width="1" height="3"/><rect x="865" y="546" width="1" height="2"/><rect x="866" y="546" width="1" height="2"/><rect x="867" y="546" width="1" height="2"/><rect x="868" y="547" width="1" height="1"/><rect x="869" y="547" width="1" height="1"/><rect x="870" y="547" width="1" height="1"/><rect x="871" y="547" width="1" height="1"/><rect x="872" y="547" width="1" height="1"/><rect x="873" y="547" width="1" height="1"/><rect x="874" y="547" width="1" height="1"/><rect x="875" y="546" width="1" height="2"/><rect x="876" y="546" width="1" height="2"/><rect x="877" y="544" width="1" height="4"/><rect x="878" y="543" width="1" height="5"/><rect x="879" y="541" width="1" height="7"/><rect x="880" y="540" width="1" height="8"/><rect x="881" y="540" width="1" height="8"/><rect x="882" y="539" width="1" height="9"/><rect x="883" y="539" width="1" height="9"/><rect x="884" y="538" width="1" height="10"/><rect x="885" y="538" width="1" height="10"/><rect x="886" y="538" width="1" height="10"/><rect x="887" y="538" width="1" height="10"/><rect x="888" y="538" width="1" height="10"/><rect x="889" y="538" width="1" height="10"/><rect x="890" y="538" width="1" height="10"/><rect x="891" y="538" width="1" height="10"/><rect x="892" y="538" width="1" height="10"/><rect x="893" y="539" width="1" height="9"/><rect x="894" y="539" width="1" height="9"/><rect x="895" y="540" width="1" height="8"/><rect x="896" y="541" width="1" height="7"/><rect x="897" y="542" width="1" height="6"/><rect x="898" y="543" width="1" height="5"/><rect x="899" y="543" width="1" height="5"/><rect x="900" y="544" width="1" height="4"/><rect x="901" y="545" width="1" height="3"/><rect x="902" y="545" width="1" height="3"/><rect x="903" y="546" width="1" height="2"/><rect x="904" y="546" width="1" height="2"/><rect x="905" y="547" width="1" height="1"/><rect x="906" y="547" width="1" height="1"/><rect x="907" y="547" width="1" height="1"/><rect x="908" y="547" width="1" height="1"/><rect x="909" y="547" width="1" height="1"/><rect x="910" y="546" width="1" height="2"/><rect x="911" y="546" width="1" height="2"/><rect x="912" y="546" width="1" height="2"/><rect x="913" y="545" width="1" height="3"/><rect x="914" y="544" width="1" height="4"/><rect x="915" y="543" width="1" height="5"/><rect x="916" y="541" width="1" height="7"/><rect x="917" y="539" width="1" height="9"/><rect x="918" y="538" width="1" height="10"/><rect x="919" y="536" width="1" height="12"/><rect x="920" y="535" width="1" height="13"/><rect x="921" y="534" width="1" height="14"/><rect x="922" y="533" width="1" height="15"/><rect x="923" y="533" width="1" height="15"/><rect x="924" y="532" width="1" height="16"/><rect x="925" y="531" width="1" height="17"/></g>
<polyline points="1.5,548.1 2.5,548.2 3.5,548.4 4.5,548.5 5.5,548.6 6.5,548.7 7.5,548.8 8.5,548.8 9.5,548.8 10.5,548.8 11.5,548.8 12.5,548.7 13.5,548.6 14.5,548.5 15.5,548.3 16.5,548.0 17.5,547.5 18.5,547.1 19.5,546.5 20.5,545.9 21.5,545.3 22.5,544.6 23.5,544.0 24.5,543.4 25.5,542.7 26.5,542.0 27.5,541.3 28.5,540.7 29.5,540.1 30.5,539.7 31.5,539.4 32.5,539.2 33.5,539.0 34.5,538.9 35.5,538.9 36.5,538.9 37.5,539.1 38.5,539.4 39.5,539.9 40.5,540.6 41.5,541.4 42.5,542.3 43.5,543.3 44.5,544.3 45.5,545.2 46.5,546.0 47.5,546.6 48.5,547.3 49.5,547.9 50.5,548.5 51.5,549.1 52.5,549.6 53.5,550.2 54.5,550.7 55.5,551.2 56.5,551.7 57.5,552.2 58.5,552.7 59.5,553.2 60.5,553.6 61.5,554.1 62.5,554.6 63.5,555.0 64.5,555.4 65.5,555.8 66.5,556.1 67.5,556.4 68.5,556.6 69.5,556.8 70.5,556.9 71.5,557.0 72.5,557.1 73.5,557.2 74.5,557.3 75.5,557.4 76.5,557.4 77.5,557.4 78.5,557.5 79.5,557.5 80.5,557.4 81.5,557.4 82.5,557.4 83.5,557.3 84.5,557.2 85.5,557.1 86.5,556.9 87.5,556.8 88.5,556.5 89.5,556.2 90.5,555.8 91.5,555.4 92.5,554.9 93.5,554.3 94.5,553.7 95.5,553.1 96.5,552.5 97.5,551.9 98.5,551.3 99.5,550.7 100.5,550.1 101.5,549.4 102.5,548.7 103.5,548.0 104.5,547.3 105.5,546.7 106.5,546.0 107.5,545.5 108.5,545.0 109.5,544.6 110.5,544.3 111.5,544.0 112.5,543.9 113.5,543.7 114.5,543.7 115.5,543.6 116.5,543.5 117.5,543.5 118.5,543.5 119.5,543.5 120.5,543.5 121.5,543.6 122.5,543.7 123.5,543.7 124.5,543.7 125.5,543.7 126.5,543.6 127.5,543.5 128.5,543.3 129.5,543.2 130.5,543.1 131.5,542.9 132.5,542.5 133.5,541.9 134.5,541.1 135.5,540.1 136.5,538.6 137.5,536.9 138.5,534.9 139.5,532.8 140.5,530.6 141.5,528.5 142.5,526.4 143.5,524.5 144.5,522.5 145.5,520.6 146.5,518.6 147.5,516.7 148.5,514.8 149.5,513.1 150.5,511.4 151.5,509.9 152.5,508.5 153.5,507.2 154.5,506.0 155.5,504.8 156.5,503.8 157.5,502.9 158.5,502.1 159.5,501.5 160.5,501.1 161.5,500.9 162.5,500.8 163.5,500.9 164.5,501.2 165.5,501.7 166.5,502.3 167.5,503.0 168.5,503.8 169.5,504.8 170.5,505.8 171.5,506.8 172.5,507.9 173.5,509.0 174.5,510.0 175.5,511.1 176.5,512.2 177.5,513.3 178.5,514.5 179.5,515.6 180.5,516.8 181.5,518.0 182.5,519.1 183.5,520.3 184.5,521.3 185.5,522.4 186.5,523.4 187.5,524.3 188.5,525.3 189.5,526.2 190.5,527.1 191.5,527.9 192.5,528.8 193.5,529.6 194.5,530.4 195.5,531.2 196.5,531.9 197.5,532.7 198.5,533.3 199.5,534.0 200.5,534.6 201.5,535.3 202.5,535.9 203.5,536.4 204.5,537.0 205.5,537.6 206.5,538.1 207.5,538.7 208.5,539.3 209.5,539.8 210.5,540.4 211.5,540.9 212.5,541.4 213.5,541.9 214.5,542.4 215.5,542.8 216.5,543.2 217.5,543.6 218.5,544.0 219.5,544.3 220.5,544.6 221.5,544.9 222.5,545.1 223.5,545.3 224.5,545.3 225.5,545.3 226.5,545.3 227.5,545.1 228.5,544.8 229.5,544.5 230.5,544.2 231.5,543.9 232.5,543.6 233.5,543.4 234.5,543.2 235.5,543.1 236.5,542.9 237.5,542.8 238.5,542.6 239.5,542.5 240.5,542.3 241.5,542.1 242.5,541.8 243.5,541.4 244.5,541.0 245.5,540.5 246.5,540.0 247.5,539.4 248.5,538.8 249.5,538.1 250.5,537.5 251.5,536.9 252.5,536.4 253.5,535.9 254.5,535.5 255.5,535.1 256.5,534.8 257.5,534.4 258.5,534.2 259.5,533.9 260.5,533.7 261.5,533.5 262.5,533.3 263.5,533.1 264.5,533.0 265.5,532.8 266.5,532.7 267.5,532.6 268.5,532.5 269.5,532.4 270.5,532.5 271.5,532.6 272.5,532.9 273.5,533.2 274.5,533.8 275.5,534.4 276.5,535.0 277.5,535.8 278.5,536.6 279.5,537.4 280.5,538.1 281.5,538.9 282.5,539.8 283.5,540.6 284.5,541.6 285.5,542.4 286.5,543.3 287.5,544.1 288.5,544.8 289.5,545.4 290.5,545.9 291.5,546.4 292.5,546.7 293.5,547.1 294.5,547.3 295.5,547.5 296.5,547.6 297.5,547.6 298.5,547.5 299.5,547.4 300.5,547.1 301.5,546.8 302.5,546.5 303.5,546.1 304.5,545.7 305.5,545.3 306.5,545.0 307.5,544.7 308.5,544.4 309.5,544.3 310.5,544.1 311.5,544.0 312.5,543.9 313.5,544.0 314.5,544.1 315.5,544.4 316.5,544.9 317.5,545.6 318.5,546.4 319.5,547.3 320.5,548.2 321.5,549.3 322.5,550.3 323.5,551.4 324.5,552.5 325.5,553.8 326.5,555.0 327.5,556.3 328.5,557.6 329.5,558.7 330.5,559.8 331.5,560.7 332.5,561.6 333.5,562.3 334.5,563.0 335.5,563.6 336.5,564.2 337.5,564.6 338.5,565.0 339.5,565.3 340.5,565.6 341.5,565.7 342.5,565.8 343.5,565.8 344.5,565.8 345.5,565.7 346.5,565.6 347.5,565.4 348.5,565.2 349.5,564.9 350.5,564.5 351.5,564.1 352.5,563.6 353.5,563.0 354.5,562.4 355.5,561.8 356.5,561.1 357.5,560.5 358.5,559.8 359.5,559.2 360.5,558.5 361.5,557.8 362.5,557.1 363.5,556.3 364.5,555.6 365.5,554.9 366.5,554.3 367.5,553.8 368.5,553.4 369.5,553.1 370.5,553.0 371.5,552.9 372.5,552.9 373.5,552.8 374.5,552.8 375.5,552.7 376.5,552.7 377.5,552.7 378.5,552.7 379.5,552.7 380.5,552.7 381.5,552.7 382.5,552.6 383.5,552.5 384.5,552.3 385.5,552.0 386.5,551.6 387.5,551.1 388.5,550.6 389.5,550.0 390.5,549.4 391.5,548.8 392.5,548.3 393.5,547.8 394.5,547.3 395.5,546.8 396.5,546.3 397.5,545.8 398.5,545.3 399.5,544.9 400.5,544.5 401.5,544.2 402.5,543.9 403.5,543.7 404.5,543.6 405.5,543.5 406.5,543.5 407.5,543.5 408.5,543.6 409.5,543.7 410.5,543.7 411.5,543.8 412.5,543.8 413.5,543.9 414.5,543.9 415.5,543.8 416.5,543.7 417.5,543.5 418.5,543.3 419.5,543.1 420.5,542.8 421.5,542.6 422.5,542.3 423.5,542.1 424.5,541.9 425.5,541.7 426.5,541.6 427.5,541.5 428.5,541.5 429.5,541.5 430.5,541.6 431.5,541.8 432.5,542.0 433.5,542.3 434.5,542.6 435.5,543.1 436.5,543.6 437.5,544.1 438.5,544.7 439.5,545.3 440.5,545.8 441.5,546.3 442.5,546.8 443.5,547.1 444.5,547.3 445.5,547.5 446.5,547.5 447.5,547.5 448.5,547.4 449.5,547.3 450.5,547.3 451.5,547.2 452.5,547.1 453.5,547.1 454.5,547.0 455.5,546.8 456.5,546.7 457.5,546.5 458.5,546.4 459.5,546.3 460.5,546.3 461.5,546.3 462.5,546.4 463.5,546.6 464.5,546.9 465.5,547.3 466.5,547.7 467.5,548.3 468.5,548.8 469.5,549.4 470.5,550.0 471.5,550.6 472.5,551.1 473.5,551.7 474.5,552.2 475.5,552.7 476.5,553.1 477.5,553.6 478.5,554.0 479.5,554.5 480.5,554.9 481.5,555.4 482.5,555.8 483.5,556.3 484.5,556.7 485.5,557.1 486.5,557.6 487.5,557.9 488.5,558.3 489.5,558.6 490.5,559.0 491.5,559.4 492.5,559.8 493.5,560.2 494.5,560.8 495.5,561.4 496.5,562.1 497.5,562.8 498.5,563.6 499.5,564.4 500.5,565.2 501.5,565.9 502.5,566.6 503.5,567.3 504.5,568.0 505.5,568.5 506.5,569.0 507.5,569.5 508.5,570.0 509.5,570.4 510.5,570.8 511.5,571.2 512.5,571.5 513.5,571.8 514.5,572.0 515.5,572.2 516.5,572.4 517.5,572.5 518.5,572.5 519.5,572.5 520.5,572.3 521.5,572.2 522.5,571.9 523.5,571.7 524.5,571.4 525.5,571.2 526.5,570.9 527.5,570.6 528.5,570.3 529.5,570.0 530.5,569.7 531.5,569.3 532.5,569.0 533.5,568.6 534.5,568.3 535.5,567.9 536.5,567.6 537.5,567.3 538.5,567.0 539.5,566.7 540.5,566.4 541.5,566.1 542.5,565.8 543.5,565.5 544.5,565.2 545.5,564.9 546.5,564.5 547.5,564.1 548.5,563.7 549.5,563.2 550.5,562.7 551.5,562.1 552.5,561.5 553.5,560.9 554.5,560.3 555.5,559.6 556.5,559.0 557.5,558.3 558.5,557.6 559.5,557.0 560.5,556.3 561.5,555.6 562.5,555.0 563.5,554.4 564.5,553.8 565.5,553.2 566.5,552.6 567.5,551.9 568.5,551.3 569.5,550.6 570.5,549.9 571.5,549.1 572.5,548.3 573.5,547.4 574.5,546.4 575.5,545.3 576.5,544.1 577.5,542.9 578.5,541.6 579.5,540.4 580.5,539.1 581.5,537.8 582.5,536.5 583.5,535.2 584.5,533.7 585.5,532.3 586.5,530.9 587.5,529.6 588.5,528.3 589.5,527.1 590.5,526.1 591.5,525.1 592.5,524.1 593.5,523.3 594.5,522.5 595.5,521.7 596.5,521.0 597.5,520.3 598.5,519.7 599.5,519.1 600.5,518.6 601.5,518.1 602.5,517.7 603.5,517.4 604.5,517.2 605.5,517.1 606.5,517.0 607.5,517.0 608.5,517.1 609.5,517.2 610.5,517.5 611.5,517.8 612.5,518.1 613.5,518.5 614.5,519.0 615.5,519.5 616.5,520.1 617.5,520.7 618.5,521.3 619.5,522.0 620.5,522.6 621.5,523.2 622.5,523.8 623.5,524.4 624.5,525.0 625.5,525.7 626.5,526.4 627.5,527.1 628.5,528.0 629.5,528.9 630.5,529.9 631.5,530.9 632.5,532.0 633.5,533.1 634.5,534.3 635.5,535.6 636.5,537.0 637.5,538.4 638.5,540.0 639.5,541.9 640.5,543.9 641.5,545.9 642.5,547.8 643.5,549.5 644.5,551.0 645.5,552.3 646.5,553.5 647.5,554.6 648.5,555.6 649.5,556.6 650.5,557.4 651.5,558.3 652.5,559.0 653.5,559.7 654.5,560.3 655.5,560.9 656.5,561.3 657.5,561.6 658.5,561.9 659.5,562.0 660.5,562.1 661.5,562.0 662.5,561.9 663.5,561.8 664.5,561.5 665.5,561.2 666.5,560.8 667.5,560.4 668.5,559.9 669.5,559.3 670.5,558.6 671.5,557.8 672.5,557.0 673.5,556.2 674.5,555.3 675.5,554.5 676.5,553.7 677.5,553.0 678.5,552.3 679.5,551.5 680.5,550.8 681.5,550.1 682.5,549.4 683.5,548.8 684.5,548.3 685.5,547.8 686.5,547.4 687.5,547.0 688.5,546.7 689.5,546.5 690.5,546.2 691.5,546.0 692.5,545.9 693.5,545.8 694.5,545.7 695.5,545.6 696.5,545.5 697.5,545.5 698.5,545.6 699.5,545.7 700.5,545.8 701.5,545.9 702.5,546.2 703.5,546.5 704.5,546.8 705.5,547.2 706.5,547.6 707.5,548.0 708.5,548.5 709.5,549.0 710.5,549.5 711.5,550.0 712.5,550.6 713.5,551.2 714.5,551.9 715.5,552.5 716.5,553.1 717.5,553.6 718.5,554.1 719.5,554.4 720.5,554.7 721.5,555.0 722.5,555.2 723.5,555.4 724.5,555.5 725.5,555.6 726.5,555.6 727.5,555.6 728.5,555.5 729.5,555.3 730.5,555.2 731.5,554.9 732.5,554.6 733.5,554.3 734.5,554.0 735.5,553.7 736.5,553.3 737.5,552.8 738.5,552.4 739.5,551.9 740.5,551.3 741.5,550.8 742.5,550.2 743.5,549.7 744.5,549.1 745.5,548.5 746.5,547.8 747.5,547.1 748.5,546.4 749.5,545.8 750.5,545.4 751.5,545.1 752.5,545.0 753.5,545.0 754.5,545.1 755.5,545.4 756.5,545.7 757.5,546.1 758.5,546.6 759.5,547.2 760.5,547.9 761.5,548.5 762.5,549.0 763.5,549.4 764.5,549.6 765.5,549.7 766.5,549.8 767.5,549.8 768.5,549.7 769.5,549.7 770.5,549.6 771.5,549.5 772.5,549.4 773.5,549.2 774.5,549.0 775.5,548.7 776.5,548.4 777.5,548.1 778.5,547.9 779.5,547.6 780.5,547.4 781.5,547.3 782.5,547.1 783.5,547.0 784.5,546.9 785.5,546.8 786.5,546.7 787.5,546.7 788.5,546.6 789.5,546.6 790.5,546.5 791.5,546.5 792.5,546.4 793.5,546.4 794.5,546.4 795.5,546.4 796.5,546.4 797.5,546.4 798.5,546.5 799.5,546.5 800.5,546.6 801.5,546.8 802.5,546.9 803.5,547.1 804.5,547.3 805.5,547.5 806.5,547.7 807.5,547.9 808.5,548.2 809.5,548.4 810.5,548.6 811.5,548.9 812.5,549.1 813.5,549.4 814.5,549.7 815.5,550.0 816.5,550.3 817.5,550.5 818.5,550.7 819.5,550.8 820.5,550.8 821.5,550.7 822.5,550.6 823.5,550.4 824.5,550.2 825.5,550.0 826.5,549.8 827.5,549.5 828.5,549.4 829.5,549.2 830.5,549.1 831.5,549.0 832.5,548.9 833.5,548.7 834.5,548.6 835.5,548.3 836.5,548.1 837.5,547.7 838.5,547.3 839.5,546.9 840.5,546.4 841.5,545.9 842.5,545.3 843.5,544.7 844.5,544.2 845.5,543.5 846.5,542.8 847.5,542.1 848.5,541.3 849.5,540.5 850.5,539.7 851.5,539.0 852.5,538.3 853.5,537.6 854.5,537.0 855.5,536.5 856.5,536.0 857.5,535.6 858.5,535.4 859.5,535.4 860.5,535.6 861.5,535.9 862.5,536.4 863.5,536.9 864.5,537.5 865.5,538.1 866.5,538.7 867.5,539.4 868.5,540.2 869.5,540.9 870.5,541.6 871.5,542.2 872.5,542.8 873.5,543.5 874.5,544.1 875.5,544.7 876.5,545.1 877.5,545.5 878.5,545.7 879.5,545.7 880.5,545.6 881.5,545.2 882.5,544.8 883.5,544.3 884.5,543.8 885.5,543.3 886.5,543.0 887.5,542.5 888.5,542.1 889.5,541.6 890.5,541.2 891.5,540.8 892.5,540.5 893.5,540.2 894.5,540.0 895.5,539.8 896.5,539.6 897.5,539.5 898.5,539.4 899.5,539.5 900.5,539.7 901.5,540.1 902.5,540.6 903.5,541.1 904.5,541.7 905.5,542.3 906.5,542.8 907.5,543.2 908.5,543.7 909.5,544.2 910.5,544.7 911.5,545.1 912.5,545.4 913.5,545.7 914.5,545.8 915.5,545.8 916.5,545.6 917.5,545.3 918.5,545.0 919.5,544.6 920.5,544.2 921.5,543.8 922.5,543.3 923.5,542.8 924.5,542.3 925.5,541.8" fill="none" stroke="#ff0000" stroke-width="1" />
<path d="M2 606.5H1163M2 640.5H1163" stroke="#c0c0c0" stroke-width="1" stroke-dasharray="3 3" fill="none"/>
<polyline points="1.5,626.1 4.1,615.8 5.5,622.1 8.4,625.1 12.4,623.5 15.4,620.1 18.3,611.2 20.3,607.8 21.9,612.2 25.3,610.2 27.8,614.2 29.8,627.7 33.2,626.1 37.2,625.1 38.2,622.7 41.1,628.1 44.1,631.0 48.1,629.0 50.0,627.7 52.4,630.6 55.0,632.0 59.0,630.6 60.9,632.0 62.3,630.0 64.3,636.0 65.9,639.5 67.9,629.0 70.9,628.1 72.8,628.6 75.8,627.1 78.2,632.0 79.8,630.0 82.1,633.0 85.7,634.0 87.7,624.1 91.7,614.8 93.6,616.2 97.6,617.2 99.6,620.7 102.6,616.8 107.5,614.8 109.5,618.1 112.5,621.1 114.5,620.1 117.8,623.1 120.4,620.1 122.4,622.7 125.4,618.1 126.7,616.8 127.9,622.1 129.7,600.9 133.3,601.3 136.3,595.0 139.2,593.8 145.2,595.0 150.1,591.8 152.1,593.8 157.1,593.8 160.0,597.7 161.4,608.2 164.0,609.2 166.0,612.2 169.0,608.2 171.9,605.7 174.9,611.2 177.9,616.2 179.8,614.2 183.8,620.1 185.8,626.1 188.8,619.1 192.7,616.2 196.7,621.1 198.7,619.1 201.6,622.1 203.6,621.1 205.6,624.1 207.6,626.1 210.2,632.0 212.5,622.1 215.5,620.1 217.5,622.1 220.5,620.1 223.4,621.1 226.4,618.1 229.4,618.1 230.5,617.2 233.5,613.2 236.0,618.1 238.4,616.2 241.4,615.2 244.4,611.2 248.3,606.3 250.3,606.8 253.9,604.9 255.9,607.2 258.2,614.8 261.2,610.2 264.2,608.8 267.8,608.2 269.1,615.2 271.1,623.1 274.1,630.6 276.1,625.1 279.1,629.0 282.0,626.1 288.0,626.1 290.0,630.6 292.3,620.1 295.9,617.5 298.9,618.1 301.8,621.5 304.2,623.5 306.8,617.2 309.8,615.6 312.1,614.2 313.7,622.1 315.7,635.0 317.7,640.5 321.7,640.9 324.6,638.6 327.6,639.9 330.6,637.0 333.6,638.6 336.5,636.0 339.5,631.4 341.5,633.4 344.5,632.0 347.8,633.4 350.4,631.4 353.4,626.1 355.4,627.1 358.3,619.1 361.3,621.1 363.7,619.1 366.3,627.1 369.2,632.6 371.6,631.0 376.2,636.6 378.1,622.1 380.1,619.1 382.1,621.5 384.1,619.1 387.1,620.1 391.0,617.5 395.0,616.8 397.0,618.1 399.5,613.6 401.3,621.1 403.9,624.7 407.9,622.7 409.8,620.1 411.8,625.5 413.8,614.2 417.8,616.2 420.7,616.2 423.7,614.8 425.7,622.1 428.7,628.6 431.6,629.0 435.6,628.1 437.6,631.4 439.6,621.5 441.6,622.7 444.5,620.1 447.5,617.5 451.5,616.8 454.4,622.7 457.4,625.5 459.4,629.0 460.5,630.6 463.5,635.0 468.4,636.0 472.0,624.1 474.0,633.0 476.0,637.0 480.3,633.0 483.3,631.0 485.9,626.1 488.2,636.0 490.2,639.9 494.2,641.9 498.2,644.9 501.1,645.9 504.1,643.9 506.1,639.9 508.1,642.9 510.0,639.9 514.0,638.6 518.0,639.9 521.5,642.5 523.9,639.0 527.9,638.0 529.9,636.0 531.8,639.9 533.8,640.5 536.2,635.0 538.8,638.0 541.8,638.6 543.7,633.0 546.1,639.0 547.7,626.1 551.7,620.1 554.6,621.1 557.6,621.5 559.6,620.7 562.0,623.5 564.5,620.1 567.5,617.2 569.5,606.3 572.5,601.3 575.4,600.3 577.4,600.9 581.8,596.3 584.4,597.7 587.3,595.8 590.3,597.7 594.3,595.0 598.2,595.0 600.8,596.9 603.6,596.3 605.2,605.3 608.1,607.6 611.1,607.2 614.1,608.8 618.1,604.9 622.0,603.9 624.0,606.3 626.0,606.3 628.0,614.2 629.9,627.1 631.9,635.0 634.9,638.0 637.9,634.0 639.8,639.9 641.8,643.9 643.8,639.0 647.8,637.0 649.8,635.0 651.7,638.6 653.7,637.0 656.3,628.1 659.7,628.1 663.6,629.0 665.6,622.1 668.2,616.8 669.6,621.1 671.6,615.2 674.1,615.2 676.1,624.7 678.5,621.1 681.5,618.1 685.4,624.7 688.4,621.5 690.5,620.7 693.5,621.1 696.0,625.5 699.4,625.1 702.0,632.6 704.0,631.4 706.0,634.0 709.3,631.0 712.3,633.0 715.3,632.6 717.8,630.6 719.8,624.1 722.2,626.1 725.2,627.5 729.1,627.1 732.1,624.7 734.5,621.1 737.7,611.2 740.0,614.8 742.4,614.2 746.0,618.7 748.0,617.5 750.0,622.1 751.9,632.0 753.9,634.6 756.3,636.6 758.9,627.1 761.8,620.1 764.8,617.5 767.4,619.1 769.8,624.1 773.7,629.4 776.1,621.1 778.7,620.1 781.7,616.2 784.6,623.5 787.6,625.5 790.6,622.7 793.6,623.5 799.5,622.1 803.5,628.1 807.4,626.7 809.4,629.4 811.8,628.1 813.8,629.4 817.3,622.7 820.3,618.7 825.3,621.1 828.2,627.5 830.2,625.5 832.2,625.1 835.2,614.8 837.5,609.2 839.5,611.6 843.1,608.2 847.1,605.7 850.0,605.7 853.0,612.2 856.0,619.1 858.0,621.1 861.9,629.0 867.9,629.0 869.8,624.1 872.8,621.5 874.8,622.1 877.8,616.2 879.8,606.3 881.7,615.6 884.7,615.2 886.7,612.8 889.7,615.6 891.6,615.2 893.0,621.1 895.6,624.7 898.6,622.7 901.6,622.1 903.5,630.6 905.5,629.0 907.5,623.1 911.5,622.1 914.4,617.2 917.4,607.2 920.0,611.6 922.4,608.2 925.3,606.3" fill="none" stroke="#1e90ff" stroke-width="1" />
<path d="M0.5 31V667 M0 31.5H1164 M1163.5 31V667 M0 491.5H1164 M0 493.5H1164 M0 577.5H1164 M0 579.5H1164 M0 666.5H1164" stroke="#000" stroke-width="1" fill="none"/>
<rect x="0" y="492" width="1165" height="1" fill="#fff"/><rect x="0" y="578" width="1165" height="1" fill="#fff"/>
<path d="M1164 92.5H1166M1164 125.5H1166M1164 158.5H1166M1164 191.5H1166M1164 224.5H1166M1164 257.5H1166M1164 290.5H1166M1164 323.5H1166M1164 356.5H1166M1164 389.5H1166M1164 422.5H1166M1164 455.5H1166M1164 488.5H1166M1164 666.5H1165M1164 495.5H1165M1164 576.5H1165M1164 581.5H1165" stroke="#000" stroke-width="1" fill="none"/>
<path d="M1.5 667V670M65.5 667V670M129.5 667V670M193.5 667V670M257.5 667V670M321.5 667V670M385.5 667V670M449.5 667V670M513.5 667V670M577.5 667V670M641.5 667V670M705.5 667V670M769.5 667V670M833.5 667V670M897.5 667V670" stroke="#000" stroke-width="1" fill="none"/>
<rect x="1" y="63" width="1163" height="2" fill="#ff0000"/>
<rect x="1" y="165" width="1163" height="2" fill="#ff0000"/>
<rect x="1" y="243" width="1163" height="2" fill="#00ff00"/>
<rect x="1" y="339" width="1163" height="2" fill="#0000ff"/>
<rect x="1" y="436" width="1163" height="2" fill="#0000ff"/>
</svg>
<div class="ttl" style="left:17px;top:34px;transform:scaleX(0.94)">USDCHF,H4&nbsp; 0.92758 0.92758 0.92756 0.92756</div>
<svg style="position:absolute;left:4px;top:37px" width="9" height="6"><path d="M0 5.5L4 1L8 5.5Z" fill="#000"/></svg>
<div class="ttl" style="left:5px;top:497px">MACD(12,26,9) 0.001978 0.000922</div>
<div class="ttl" style="left:5px;top:583px">RSI(14) 69.6450</div>
<div class="ax" style="top:87.4px">0.92465</div><div class="ax" style="top:120.4px">0.92190</div><div class="ax" style="top:153.4px">0.91915</div><div class="ax" style="top:186.4px">0.91645</div><div class="ax" style="top:219.4px">0.91370</div><div class="ax" style="top:252.4px">0.91095</div><div class="ax" style="top:285.4px">0.90820</div><div class="ax" style="top:318.4px">0.90550</div><div class="ax" style="top:351.4px">0.90275</div><div class="ax" style="top:384.4px">0.90000</div><div class="ax" style="top:417.4px">0.89725</div><div class="ax" style="top:450.4px">0.89455</div><div class="ax" style="top:483.4px">0.89180</div><div class="ax2" style="top:495px">0.006451</div><div class="ax2" style="top:543px">0.00</div><div class="ax2" style="top:565px;left:1166px">-0.003507</div><div class="ax2" style="top:581px">100</div><div class="ax2" style="top:601px">70</div><div class="ax2" style="top:635px">30</div><div class="ax2" style="top:654px">0</div><div class="pb" style="top:52px;background:#000">0.92756</div><div class="pb" style="top:58px;background:#ff0000">0.92699</div><div class="pb" style="top:160px;background:#ff0000">0.91855</div><div class="pb" style="top:238px;background:#00ff00">0.91208</div><div class="pb" style="top:334px;background:#0000ff">0.90405</div><div class="pb" style="top:431px;background:#0000ff">0.89602</div>
<div class="tm" style="left:1px">2 Jun 2021</div><div class="tm" style="left:65px">9 Jun 18:00</div><div class="tm" style="left:129px">17 Jun 00:00</div><div class="tm" style="left:193px">24 Jun 10:00</div><div class="tm" style="left:257px">1 Jul 18:00</div><div class="tm" style="left:321px">9 Jul 00:00</div><div class="tm" style="left:385px">16 Jul 10:00</div><div class="tm" style="left:449px">23 Jul 18:00</div><div class="tm" style="left:513px">31 Jul 00:00</div><div class="tm" style="left:577px">9 Aug 11:00</div><div class="tm" style="left:641px">16 Aug 19:00</div><div class="tm" style="left:705px">24 Aug 00:00</div><div class="tm" style="left:769px">31 Aug 10:00</div><div class="tm" style="left:833px">7 Sep 18:00</div><div class="tm" style="left:897px">15 Sep 00:00</div>
<div id="tp">
 <div class="btn" style="left:0;width:52px"><span style="transform:scaleX(0.88)">SELL</span><i></i></div>
 <div class="btn" style="left:167px;width:52px"><span style="transform:scaleX(0.95);margin-left:-2px">BUY</span><i></i></div>
 <div id="vol">
  <div class="sp" style="left:0"><svg width="18" height="18" style="position:absolute;left:0;top:0"><path d="M6.5 8h5.4l-2.7 3z" fill="#3f5fc0"/></svg></div>
  <div style="position:absolute;right:25px;top:3px;font-size:11.7px;line-height:14px;color:#000">3.00</div>
  <div class="sp" style="right:0"><svg width="18" height="18" style="position:absolute;left:0;top:0"><path d="M6 11h5.4l-2.7 -3z" fill="#3f5fc0"/></svg></div>
 </div>
 <div class="pr" style="left:0;width:109px"><span class="s" style="left:19.5px">0.92</span><span class="b" style="left:46.8px">75</span><span class="u" style="left:87.5px">9</span></div>
 <div class="pr" style="left:111px;width:108px"><span class="s" style="left:18.5px">0.92</span><span class="b" style="left:46.5px">77</span><span class="u" style="left:86.5px">4</span></div>
</div>
<div id="tabs"><div class="ln0"></div><div class="ln"></div>
<div id="act"></div><div id="act2"></div>
<div class="tab" style="left:14px;letter-spacing:0.1px">EURUSD,H4</div><div class="tsep" style="left:94px"></div>
<div class="tab" style="left:105px;letter-spacing:0.32px">AUDUSD,Daily</div>
<div class="tab" style="left:208.5px;color:#000;letter-spacing:0.18px">USDCHF,H4</div>
<div class="tab" style="left:297px;letter-spacing:0.26px">USDCAD,Daily</div><div class="tsep" style="left:390px"></div>
<div class="tab" style="left:400px;letter-spacing:0.38px">USDCNH,Daily</div><div class="tsep" style="left:494px"></div>
<div class="tab" style="left:506px;letter-spacing:0.45px">UKOil,H1</div><div class="tsep" style="left:570px"></div>
<div class="tab" style="left:580.5px;letter-spacing:0.13px">DJ30,H1</div><div class="tsep" style="left:638px"></div>
<div class="tab" style="left:650px;letter-spacing:0.14px">USDX,H1</div><div class="tsep" style="left:715px"></div>
<div class="tab" style="left:725px;letter-spacing:0.33px">XAUUSD,H4</div><div class="tsep" style="left:807px"></div>
<div class="tab" style="left:818px;letter-spacing:0.08px">GBPUSD,H1</div><div class="tsep" style="left:898px"></div>
<svg style="position:absolute;left:1176px;top:6px" width="30" height="11"><path d="M6.5 2V8.6L2.8 5.3Z M21.7 2V8.6L25.4 5.3Z" fill="#7a7a7a"/></svg>
</div>
</body></html>
